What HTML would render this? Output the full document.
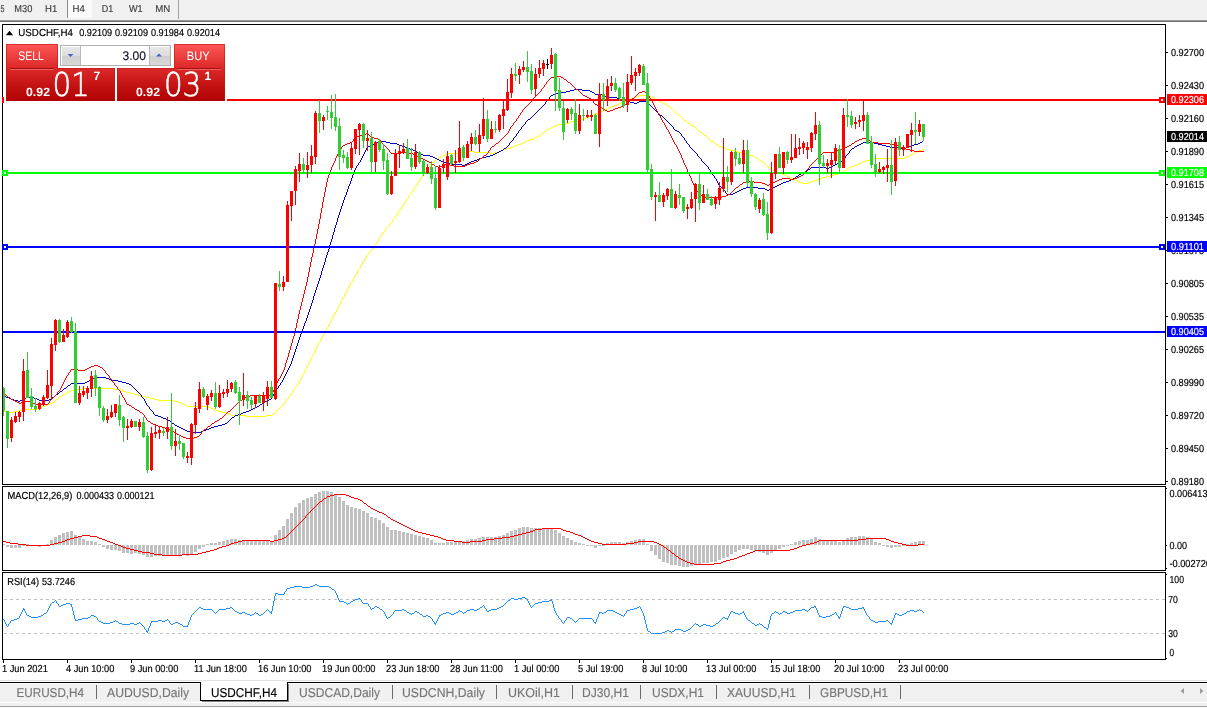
<!DOCTYPE html>
<html><head><meta charset="utf-8"><title>USDCHF,H4</title>
<style>
html,body{margin:0;padding:0;background:#fff;overflow:hidden}
svg{display:block;font-family:"Liberation Sans", Arial, sans-serif}
rect,line,polyline{shape-rendering:crispEdges}
text{white-space:pre;text-rendering:geometricPrecision}
</style></head>
<body>
<svg width="1207" height="708" viewBox="0 0 1207 708">
<rect x="0" y="0" width="1207" height="708" fill="#fff"/>
<rect x="0" y="0" width="1207" height="19" fill="#f0f0f0" />
<rect x="0" y="19" width="1207" height="1" fill="#f0f0f0" />
<rect x="0" y="20" width="1207" height="1" fill="#9a9a9a" />
<rect x="0" y="21" width="1207" height="1" fill="#6e6e6e" />
<rect x="68" y="0" width="24" height="18" fill="#fafafa" />
<rect x="67" y="0" width="1" height="18" fill="#8a8a8a" />
<rect x="178" y="0" width="1" height="19" fill="#a0a0a0" />
<text x="-5.5" y="12.1" font-size="10" fill="#3c3c3c" stroke="#3c3c3c" stroke-width="0.15" textLength="10" lengthAdjust="spacingAndGlyphs" >M5</text>
<text x="14.3" y="12.1" font-size="10" fill="#3c3c3c" stroke="#3c3c3c" stroke-width="0.15" textLength="18" lengthAdjust="spacingAndGlyphs" >M30</text>
<text x="45" y="12.1" font-size="10" fill="#3c3c3c" stroke="#3c3c3c" stroke-width="0.15" textLength="12.2" lengthAdjust="spacingAndGlyphs" >H1</text>
<text x="72.6" y="12.1" font-size="10" fill="#3c3c3c" stroke="#3c3c3c" stroke-width="0.15" textLength="12.3" lengthAdjust="spacingAndGlyphs" >H4</text>
<text x="101.8" y="12.1" font-size="10" fill="#3c3c3c" stroke="#3c3c3c" stroke-width="0.15" textLength="11.5" lengthAdjust="spacingAndGlyphs" >D1</text>
<text x="129" y="12.1" font-size="10" fill="#3c3c3c" stroke="#3c3c3c" stroke-width="0.15" textLength="13.7" lengthAdjust="spacingAndGlyphs" >W1</text>
<text x="155.3" y="12.1" font-size="10" fill="#3c3c3c" stroke="#3c3c3c" stroke-width="0.15" textLength="15" lengthAdjust="spacingAndGlyphs" >MN</text>
<rect x="2" y="24" width="1164" height="1" fill="#000" />
<rect x="2" y="484" width="1164" height="1" fill="#000" />
<rect x="2" y="24" width="1" height="461" fill="#000" />
<rect x="1165" y="24" width="1" height="461" fill="#000" />
<rect x="2" y="486" width="1164" height="1" fill="#000" />
<rect x="2" y="570" width="1164" height="1" fill="#000" />
<rect x="2" y="486" width="1" height="85" fill="#000" />
<rect x="1165" y="486" width="1" height="85" fill="#000" />
<rect x="2" y="572" width="1164" height="1" fill="#000" />
<rect x="2" y="659" width="1164" height="1" fill="#000" />
<rect x="2" y="572" width="1" height="88" fill="#000" />
<rect x="1165" y="572" width="1" height="88" fill="#000" />
<rect x="1166" y="52" width="2" height="1" fill="#000" />
<text x="1171" y="56" font-size="10.2" fill="#000" stroke="#000" stroke-width="0.18" textLength="33" lengthAdjust="spacingAndGlyphs" >0.92700</text>
<rect x="1166" y="85" width="2" height="1" fill="#000" />
<text x="1171" y="89" font-size="10.2" fill="#000" stroke="#000" stroke-width="0.18" textLength="33" lengthAdjust="spacingAndGlyphs" >0.92430</text>
<rect x="1166" y="118" width="2" height="1" fill="#000" />
<text x="1171" y="122" font-size="10.2" fill="#000" stroke="#000" stroke-width="0.18" textLength="33" lengthAdjust="spacingAndGlyphs" >0.92160</text>
<rect x="1166" y="151" width="2" height="1" fill="#000" />
<text x="1171" y="155" font-size="10.2" fill="#000" stroke="#000" stroke-width="0.18" textLength="33" lengthAdjust="spacingAndGlyphs" >0.91890</text>
<rect x="1166" y="184" width="2" height="1" fill="#000" />
<text x="1171" y="188" font-size="10.2" fill="#000" stroke="#000" stroke-width="0.18" textLength="33" lengthAdjust="spacingAndGlyphs" >0.91615</text>
<rect x="1166" y="217" width="2" height="1" fill="#000" />
<text x="1171" y="221" font-size="10.2" fill="#000" stroke="#000" stroke-width="0.18" textLength="33" lengthAdjust="spacingAndGlyphs" >0.91345</text>
<rect x="1166" y="250" width="2" height="1" fill="#000" />
<text x="1171" y="254" font-size="10.2" fill="#000" stroke="#000" stroke-width="0.18" textLength="33" lengthAdjust="spacingAndGlyphs" >0.91075</text>
<rect x="1166" y="283" width="2" height="1" fill="#000" />
<text x="1171" y="287" font-size="10.2" fill="#000" stroke="#000" stroke-width="0.18" textLength="33" lengthAdjust="spacingAndGlyphs" >0.90805</text>
<rect x="1166" y="316" width="2" height="1" fill="#000" />
<text x="1171" y="320" font-size="10.2" fill="#000" stroke="#000" stroke-width="0.18" textLength="33" lengthAdjust="spacingAndGlyphs" >0.90535</text>
<rect x="1166" y="349" width="2" height="1" fill="#000" />
<text x="1171" y="353" font-size="10.2" fill="#000" stroke="#000" stroke-width="0.18" textLength="33" lengthAdjust="spacingAndGlyphs" >0.90265</text>
<rect x="1166" y="382" width="2" height="1" fill="#000" />
<text x="1171" y="386" font-size="10.2" fill="#000" stroke="#000" stroke-width="0.18" textLength="33" lengthAdjust="spacingAndGlyphs" >0.89990</text>
<rect x="1166" y="415" width="2" height="1" fill="#000" />
<text x="1171" y="419" font-size="10.2" fill="#000" stroke="#000" stroke-width="0.18" textLength="33" lengthAdjust="spacingAndGlyphs" >0.89720</text>
<rect x="1166" y="448" width="2" height="1" fill="#000" />
<text x="1171" y="452" font-size="10.2" fill="#000" stroke="#000" stroke-width="0.18" textLength="33" lengthAdjust="spacingAndGlyphs" >0.89450</text>
<rect x="1166" y="481" width="2" height="1" fill="#000" />
<text x="1171" y="485" font-size="10.2" fill="#000" stroke="#000" stroke-width="0.18" textLength="33" lengthAdjust="spacingAndGlyphs" >0.89180</text>
<path d="M639 95h10v1h-10zM637 96h2v1h-2zM649 96h2v1h-2zM634 97h3v1h-3zM651 97h2v1h-2zM631 98h3v1h-3zM653 98h2v1h-2zM629 99h2v1h-2zM655 99h2v1h-2zM626 100h3v1h-3zM657 100h2v1h-2zM623 101h3v1h-3zM659 101h2v1h-2zM621 102h2v1h-2zM661 102h2v1h-2zM619 103h2v1h-2zM663 103h2v1h-2zM617 104h2v1h-2zM665 104h2v1h-2zM614 105h3v1h-3zM667 105h1v1h-1zM611 106h3v1h-3zM668 106h2v1h-2zM609 107h2v1h-2zM670 107h1v1h-1zM607 108h2v1h-2zM671 108h1v1h-1zM605 109h2v1h-2zM672 109h1v1h-1zM603 110h2v1h-2zM673 110h1v1h-1zM601 111h2v1h-2zM674 111h1v1h-1zM598 112h3v1h-3zM675 112h1v1h-1zM595 113h3v1h-3zM676 113h2v1h-2zM593 114h2v1h-2zM678 114h1v1h-1zM591 115h2v1h-2zM679 115h1v1h-1zM589 116h2v1h-2zM680 116h1v1h-1zM586 117h3v1h-3zM681 117h1v1h-1zM583 118h3v1h-3zM682 118h1v1h-1zM581 119h2v1h-2zM683 119h1v1h-1zM578 120h3v1h-3zM684 120h2v1h-2zM571 121h7v1h-7zM686 121h1v1h-1zM569 122h2v1h-2zM687 122h1v1h-1zM566 123h3v1h-3zM688 123h2v1h-2zM558 124h8v1h-8zM690 124h1v1h-1zM555 125h3v1h-3zM691 125h2v1h-2zM553 126h2v1h-2zM693 126h2v1h-2zM551 127h2v1h-2zM695 127h1v1h-1zM549 128h2v1h-2zM696 128h1v1h-1zM547 129h2v1h-2zM697 129h1v1h-1zM546 130h1v1h-1zM698 130h1v1h-1zM544 131h2v1h-2zM699 131h1v1h-1zM543 132h1v1h-1zM700 132h2v1h-2zM542 133h1v1h-1zM702 133h1v1h-1zM540 134h2v1h-2zM703 134h1v1h-1zM539 135h1v1h-1zM704 135h2v1h-2zM537 136h2v1h-2zM706 136h1v1h-1zM535 137h2v1h-2zM707 137h1v1h-1zM533 138h2v1h-2zM708 138h1v1h-1zM530 139h3v1h-3zM709 139h1v1h-1zM527 140h3v1h-3zM710 140h1v1h-1zM525 141h2v1h-2zM711 141h2v1h-2zM523 142h2v1h-2zM713 142h2v1h-2zM521 143h2v1h-2zM715 143h1v1h-1zM518 144h3v1h-3zM716 144h2v1h-2zM515 145h3v1h-3zM718 145h1v1h-1zM513 146h2v1h-2zM719 146h3v1h-3zM510 147h3v1h-3zM722 147h3v1h-3zM506 148h4v1h-4zM725 148h2v1h-2zM503 149h3v1h-3zM727 149h3v1h-3zM922 149h2v1h-2zM501 150h2v1h-2zM730 150h4v1h-4zM919 150h3v1h-3zM466 151h8v1h-8zM498 151h3v1h-3zM734 151h4v1h-4zM917 151h2v1h-2zM458 152h8v1h-8zM474 152h16v1h-16zM494 152h4v1h-4zM738 152h4v1h-4zM915 152h2v1h-2zM447 153h11v1h-11zM490 153h4v1h-4zM742 153h4v1h-4zM913 153h2v1h-2zM445 154h2v1h-2zM746 154h4v1h-4zM911 154h2v1h-2zM443 155h2v1h-2zM750 155h3v1h-3zM909 155h2v1h-2zM441 156h2v1h-2zM753 156h2v1h-2zM907 156h2v1h-2zM439 157h2v1h-2zM755 157h1v1h-1zM905 157h2v1h-2zM438 158h1v1h-1zM756 158h2v1h-2zM874 158h31v1h-31zM436 159h2v1h-2zM758 159h1v1h-1zM870 159h4v1h-4zM435 160h1v1h-1zM759 160h2v1h-2zM866 160h4v1h-4zM434 161h1v1h-1zM761 161h2v1h-2zM863 161h3v1h-3zM432 162h2v1h-2zM763 162h1v1h-1zM861 162h2v1h-2zM431 163h1v1h-1zM764 163h1v1h-1zM859 163h2v1h-2zM430 164h1v1h-1zM765 164h1v1h-1zM857 164h2v1h-2zM430 165h1v1h-1zM766 165h1v1h-1zM854 165h3v1h-3zM429 166h1v1h-1zM767 166h1v1h-1zM851 166h3v1h-3zM428 167h1v1h-1zM768 167h2v1h-2zM849 167h2v1h-2zM428 168h1v1h-1zM770 168h1v1h-1zM847 168h2v1h-2zM427 169h1v1h-1zM771 169h2v1h-2zM846 169h1v1h-1zM426 170h1v1h-1zM773 170h2v1h-2zM844 170h2v1h-2zM425 171h1v1h-1zM775 171h2v1h-2zM843 171h1v1h-1zM425 172h1v1h-1zM777 172h2v1h-2zM841 172h2v1h-2zM424 173h1v1h-1zM779 173h3v1h-3zM838 173h3v1h-3zM423 174h1v1h-1zM782 174h3v1h-3zM834 174h4v1h-4zM422 175h1v1h-1zM785 175h2v1h-2zM830 175h4v1h-4zM422 176h1v1h-1zM787 176h2v1h-2zM826 176h4v1h-4zM421 177h1v1h-1zM789 177h2v1h-2zM822 177h4v1h-4zM420 178h1v1h-1zM791 178h2v1h-2zM819 178h3v1h-3zM420 179h1v1h-1zM793 179h2v1h-2zM817 179h2v1h-2zM419 180h1v1h-1zM795 180h2v1h-2zM814 180h3v1h-3zM418 181h1v1h-1zM797 181h2v1h-2zM811 181h3v1h-3zM418 182h1v1h-1zM799 182h3v1h-3zM809 182h2v1h-2zM417 183h1v1h-1zM802 183h7v1h-7zM416 184h1v1h-1zM416 185h1v1h-1zM415 186h1v1h-1zM414 187h1v1h-1zM414 188h1v1h-1zM413 189h1v1h-1zM412 190h1v1h-1zM412 191h1v1h-1zM411 192h1v1h-1zM410 193h1v1h-1zM410 194h1v1h-1zM409 195h1v1h-1zM408 196h1v1h-1zM408 197h1v1h-1zM407 198h1v1h-1zM406 199h1v1h-1zM406 200h1v1h-1zM405 201h1v1h-1zM404 202h1v1h-1zM404 203h1v1h-1zM403 204h1v1h-1zM402 205h1v1h-1zM402 206h1v1h-1zM401 207h1v1h-1zM400 208h1v1h-1zM400 209h1v1h-1zM399 210h1v1h-1zM398 211h1v1h-1zM398 212h1v1h-1zM397 213h1v1h-1zM396 214h1v1h-1zM396 215h1v1h-1zM395 216h1v1h-1zM394 217h1v1h-1zM394 218h1v1h-1zM393 219h1v1h-1zM392 220h1v1h-1zM392 221h1v1h-1zM391 222h1v1h-1zM390 223h1v1h-1zM389 224h1v1h-1zM389 225h1v1h-1zM388 226h1v1h-1zM387 227h1v1h-1zM386 228h1v1h-1zM385 229h1v1h-1zM385 230h1v1h-1zM384 231h1v1h-1zM383 232h1v1h-1zM382 233h1v1h-1zM382 234h1v1h-1zM381 235h1v1h-1zM380 236h1v1h-1zM380 237h1v1h-1zM379 238h1v1h-1zM378 239h1v1h-1zM378 240h1v1h-1zM377 241h1v1h-1zM376 242h1v1h-1zM376 243h1v1h-1zM375 244h1v1h-1zM374 245h1v1h-1zM374 246h1v1h-1zM373 247h1v1h-1zM372 248h1v1h-1zM372 249h1v1h-1zM371 250h1v1h-1zM370 251h1v1h-1zM369 252h1v1h-1zM369 253h1v1h-1zM368 254h1v1h-1zM367 255h1v1h-1zM366 256h1v1h-1zM366 257h1v1h-1zM365 258h1v1h-1zM364 259h1v1h-1zM364 260h1v1h-1zM363 261h1v1h-1zM362 262h1v1h-1zM362 263h1v1h-1zM361 264h1v1h-1zM361 265h1v1h-1zM360 266h1v1h-1zM360 267h1v1h-1zM359 268h1v1h-1zM358 269h1v1h-1zM358 270h1v1h-1zM357 271h1v1h-1zM357 272h1v1h-1zM356 273h1v1h-1zM356 274h1v1h-1zM355 275h1v1h-1zM354 276h1v1h-1zM354 277h1v1h-1zM353 278h1v1h-1zM353 279h1v1h-1zM352 280h1v1h-1zM352 281h1v1h-1zM351 282h1v1h-1zM350 283h1v1h-1zM350 284h1v1h-1zM349 285h1v1h-1zM349 286h1v1h-1zM348 287h1v1h-1zM348 288h1v1h-1zM347 289h1v1h-1zM347 290h1v1h-1zM346 291h1v1h-1zM346 292h1v1h-1zM345 293h1v1h-1zM345 294h1v1h-1zM344 295h1v1h-1zM344 296h1v1h-1zM343 297h1v1h-1zM342 298h1v1h-1zM342 299h1v1h-1zM341 300h1v1h-1zM341 301h1v1h-1zM340 302h1v1h-1zM340 303h1v1h-1zM339 304h1v1h-1zM339 305h1v1h-1zM338 306h1v1h-1zM338 307h1v1h-1zM337 308h1v1h-1zM337 309h1v1h-1zM336 310h1v1h-1zM336 311h1v1h-1zM335 312h1v1h-1zM334 313h1v1h-1zM334 314h1v1h-1zM333 315h1v1h-1zM333 316h1v1h-1zM332 317h1v1h-1zM332 318h1v1h-1zM331 319h1v1h-1zM331 320h1v1h-1zM330 321h1v1h-1zM330 322h1v1h-1zM329 323h1v1h-1zM329 324h1v1h-1zM328 325h1v1h-1zM328 326h1v1h-1zM327 327h1v1h-1zM326 328h1v1h-1zM326 329h1v1h-1zM325 330h1v1h-1zM325 331h1v1h-1zM324 332h1v1h-1zM324 333h1v1h-1zM323 334h1v1h-1zM323 335h1v1h-1zM322 336h1v1h-1zM322 337h1v1h-1zM321 338h1v1h-1zM321 339h1v1h-1zM320 340h1v1h-1zM320 341h1v1h-1zM319 342h1v1h-1zM318 343h1v1h-1zM318 344h1v1h-1zM317 345h1v1h-1zM317 346h1v1h-1zM316 347h1v1h-1zM316 348h1v1h-1zM315 349h1v1h-1zM315 350h1v1h-1zM314 351h1v1h-1zM314 352h1v1h-1zM313 353h1v1h-1zM313 354h1v1h-1zM312 355h1v1h-1zM312 356h1v1h-1zM311 357h1v1h-1zM311 358h1v1h-1zM310 359h1v1h-1zM310 360h1v1h-1zM309 361h1v1h-1zM309 362h1v1h-1zM308 363h1v1h-1zM308 364h1v1h-1zM307 365h1v1h-1zM307 366h1v1h-1zM306 367h1v1h-1zM306 368h1v1h-1zM305 369h1v1h-1zM305 370h1v1h-1zM304 371h1v1h-1zM304 372h1v1h-1zM303 373h1v1h-1zM303 374h1v1h-1zM302 375h1v1h-1zM302 376h1v1h-1zM301 377h1v1h-1zM301 378h1v1h-1zM300 379h1v1h-1zM300 380h1v1h-1zM299 381h1v1h-1zM298 382h1v1h-1zM298 383h1v1h-1zM297 384h1v1h-1zM296 385h1v1h-1zM296 386h1v1h-1zM295 387h1v1h-1zM82 388h32v1h-32zM294 388h1v1h-1zM74 389h8v1h-8zM114 389h7v1h-7zM294 389h1v1h-1zM71 390h3v1h-3zM121 390h2v1h-2zM293 390h1v1h-1zM69 391h2v1h-2zM123 391h3v1h-3zM292 391h1v1h-1zM67 392h2v1h-2zM126 392h4v1h-4zM292 392h1v1h-1zM65 393h2v1h-2zM130 393h4v1h-4zM291 393h1v1h-1zM63 394h2v1h-2zM134 394h4v1h-4zM290 394h1v1h-1zM62 395h1v1h-1zM138 395h4v1h-4zM290 395h1v1h-1zM60 396h2v1h-2zM142 396h4v1h-4zM289 396h1v1h-1zM59 397h1v1h-1zM146 397h4v1h-4zM288 397h1v1h-1zM58 398h1v1h-1zM150 398h4v1h-4zM288 398h1v1h-1zM56 399h2v1h-2zM154 399h4v1h-4zM287 399h1v1h-1zM55 400h1v1h-1zM158 400h16v1h-16zM286 400h1v1h-1zM54 401h1v1h-1zM174 401h4v1h-4zM285 401h1v1h-1zM52 402h2v1h-2zM178 402h3v1h-3zM285 402h1v1h-1zM50 403h2v1h-2zM181 403h2v1h-2zM284 403h1v1h-1zM47 404h3v1h-3zM183 404h2v1h-2zM283 404h1v1h-1zM45 405h2v1h-2zM185 405h2v1h-2zM282 405h1v1h-1zM42 406h3v1h-3zM187 406h22v1h-22zM281 406h1v1h-1zM39 407h3v1h-3zM209 407h2v1h-2zM280 407h1v1h-1zM37 408h2v1h-2zM211 408h2v1h-2zM279 408h1v1h-1zM22 409h15v1h-15zM213 409h2v1h-2zM278 409h1v1h-1zM18 410h4v1h-4zM215 410h3v1h-3zM277 410h1v1h-1zM3 411h3v1h-3zM14 411h4v1h-4zM218 411h4v1h-4zM276 411h1v1h-1zM6 412h8v1h-8zM222 412h4v1h-4zM275 412h1v1h-1zM226 413h3v1h-3zM274 413h1v1h-1zM229 414h2v1h-2zM272 414h2v1h-2zM231 415h15v1h-15zM266 415h6v1h-6zM246 416h20v1h-20z" fill="#ffff00" shape-rendering="crispEdges"/>
<path d="M574 89h8v1h-8zM570 90h4v1h-4zM582 90h8v1h-8zM566 91h4v1h-4zM590 91h2v1h-2zM558 92h8v1h-8zM592 92h2v1h-2zM555 93h3v1h-3zM594 93h1v1h-1zM553 94h2v1h-2zM595 94h7v1h-7zM551 95h2v1h-2zM602 95h3v1h-3zM550 96h1v1h-1zM605 96h2v1h-2zM549 97h1v1h-1zM607 97h10v1h-10zM549 98h1v1h-1zM617 98h2v1h-2zM548 99h1v1h-1zM619 99h3v1h-3zM547 100h1v1h-1zM622 100h4v1h-4zM546 101h1v1h-1zM626 101h4v1h-4zM639 101h7v1h-7zM545 102h1v1h-1zM630 102h4v1h-4zM637 102h2v1h-2zM646 102h2v1h-2zM545 103h1v1h-1zM634 103h3v1h-3zM648 103h1v1h-1zM544 104h1v1h-1zM649 104h1v1h-1zM543 105h1v1h-1zM650 105h1v1h-1zM542 106h1v1h-1zM651 106h1v1h-1zM541 107h1v1h-1zM652 107h1v1h-1zM540 108h1v1h-1zM653 108h1v1h-1zM539 109h1v1h-1zM654 109h1v1h-1zM538 110h1v1h-1zM655 110h1v1h-1zM537 111h1v1h-1zM656 111h1v1h-1zM536 112h1v1h-1zM657 112h1v1h-1zM535 113h1v1h-1zM658 113h1v1h-1zM534 114h1v1h-1zM659 114h1v1h-1zM533 115h1v1h-1zM660 115h2v1h-2zM532 116h1v1h-1zM662 116h1v1h-1zM531 117h1v1h-1zM663 117h1v1h-1zM530 118h1v1h-1zM664 118h1v1h-1zM528 119h2v1h-2zM665 119h1v1h-1zM527 120h1v1h-1zM666 120h1v1h-1zM526 121h1v1h-1zM667 121h1v1h-1zM525 122h1v1h-1zM668 122h1v1h-1zM525 123h1v1h-1zM669 123h1v1h-1zM524 124h1v1h-1zM670 124h1v1h-1zM523 125h1v1h-1zM671 125h1v1h-1zM522 126h1v1h-1zM672 126h1v1h-1zM521 127h1v1h-1zM673 127h1v1h-1zM521 128h1v1h-1zM673 128h1v1h-1zM520 129h1v1h-1zM674 129h1v1h-1zM519 130h1v1h-1zM675 130h2v1h-2zM518 131h1v1h-1zM677 131h2v1h-2zM518 132h1v1h-1zM679 132h1v1h-1zM517 133h1v1h-1zM680 133h1v1h-1zM516 134h1v1h-1zM681 134h1v1h-1zM516 135h1v1h-1zM681 135h1v1h-1zM515 136h1v1h-1zM682 136h1v1h-1zM514 137h1v1h-1zM683 137h1v1h-1zM513 138h1v1h-1zM684 138h1v1h-1zM513 139h1v1h-1zM684 139h1v1h-1zM512 140h1v1h-1zM685 140h1v1h-1zM923 140h1v1h-1zM379 141h7v1h-7zM511 141h1v1h-1zM686 141h1v1h-1zM922 141h1v1h-1zM377 142h2v1h-2zM386 142h4v1h-4zM510 142h1v1h-1zM686 142h1v1h-1zM863 142h11v1h-11zM920 142h2v1h-2zM374 143h3v1h-3zM390 143h7v1h-7zM509 143h1v1h-1zM687 143h1v1h-1zM861 143h2v1h-2zM874 143h4v1h-4zM918 143h2v1h-2zM371 144h3v1h-3zM397 144h2v1h-2zM509 144h1v1h-1zM688 144h1v1h-1zM859 144h2v1h-2zM878 144h4v1h-4zM914 144h4v1h-4zM370 145h1v1h-1zM399 145h3v1h-3zM508 145h1v1h-1zM689 145h1v1h-1zM857 145h2v1h-2zM882 145h4v1h-4zM911 145h3v1h-3zM368 146h2v1h-2zM402 146h3v1h-3zM507 146h1v1h-1zM689 146h1v1h-1zM855 146h2v1h-2zM886 146h4v1h-4zM909 146h2v1h-2zM367 147h1v1h-1zM405 147h2v1h-2zM506 147h1v1h-1zM690 147h1v1h-1zM854 147h1v1h-1zM890 147h8v1h-8zM906 147h3v1h-3zM366 148h1v1h-1zM407 148h3v1h-3zM504 148h2v1h-2zM691 148h1v1h-1zM852 148h2v1h-2zM898 148h8v1h-8zM366 149h1v1h-1zM410 149h3v1h-3zM503 149h1v1h-1zM692 149h1v1h-1zM851 149h1v1h-1zM365 150h1v1h-1zM413 150h2v1h-2zM501 150h2v1h-2zM693 150h1v1h-1zM850 150h1v1h-1zM365 151h1v1h-1zM415 151h2v1h-2zM499 151h2v1h-2zM694 151h1v1h-1zM849 151h1v1h-1zM364 152h1v1h-1zM417 152h2v1h-2zM497 152h2v1h-2zM695 152h1v1h-1zM849 152h1v1h-1zM364 153h1v1h-1zM419 153h2v1h-2zM495 153h2v1h-2zM696 153h1v1h-1zM848 153h1v1h-1zM363 154h1v1h-1zM421 154h2v1h-2zM493 154h2v1h-2zM697 154h1v1h-1zM847 154h1v1h-1zM363 155h1v1h-1zM423 155h7v1h-7zM490 155h3v1h-3zM697 155h1v1h-1zM846 155h1v1h-1zM362 156h1v1h-1zM430 156h3v1h-3zM486 156h4v1h-4zM698 156h1v1h-1zM845 156h1v1h-1zM362 157h1v1h-1zM433 157h2v1h-2zM482 157h4v1h-4zM699 157h1v1h-1zM845 157h1v1h-1zM361 158h1v1h-1zM435 158h2v1h-2zM479 158h3v1h-3zM700 158h1v1h-1zM844 158h1v1h-1zM361 159h1v1h-1zM437 159h2v1h-2zM477 159h2v1h-2zM701 159h1v1h-1zM843 159h1v1h-1zM360 160h1v1h-1zM439 160h2v1h-2zM474 160h3v1h-3zM701 160h1v1h-1zM842 160h1v1h-1zM360 161h1v1h-1zM441 161h2v1h-2zM471 161h3v1h-3zM702 161h1v1h-1zM840 161h2v1h-2zM359 162h1v1h-1zM443 162h6v1h-6zM469 162h2v1h-2zM703 162h1v1h-1zM839 162h1v1h-1zM358 163h1v1h-1zM449 163h2v1h-2zM467 163h2v1h-2zM704 163h1v1h-1zM837 163h2v1h-2zM358 164h1v1h-1zM451 164h11v1h-11zM465 164h2v1h-2zM705 164h1v1h-1zM835 164h2v1h-2zM357 165h1v1h-1zM462 165h3v1h-3zM706 165h1v1h-1zM833 165h2v1h-2zM356 166h1v1h-1zM707 166h1v1h-1zM831 166h2v1h-2zM356 167h1v1h-1zM708 167h1v1h-1zM811 167h15v1h-15zM829 167h2v1h-2zM355 168h1v1h-1zM708 168h1v1h-1zM810 168h1v1h-1zM826 168h3v1h-3zM355 169h1v1h-1zM709 169h1v1h-1zM808 169h2v1h-2zM354 170h1v1h-1zM710 170h1v1h-1zM807 170h1v1h-1zM354 171h1v1h-1zM710 171h1v1h-1zM805 171h2v1h-2zM354 172h1v1h-1zM711 172h1v1h-1zM803 172h2v1h-2zM353 173h1v1h-1zM712 173h1v1h-1zM801 173h2v1h-2zM353 174h1v1h-1zM712 174h1v1h-1zM799 174h2v1h-2zM352 175h1v1h-1zM713 175h1v1h-1zM798 175h1v1h-1zM352 176h1v1h-1zM714 176h1v1h-1zM796 176h2v1h-2zM352 177h1v1h-1zM714 177h1v1h-1zM795 177h1v1h-1zM351 178h1v1h-1zM715 178h1v1h-1zM793 178h2v1h-2zM351 179h1v1h-1zM716 179h1v1h-1zM791 179h2v1h-2zM351 180h1v1h-1zM716 180h1v1h-1zM789 180h2v1h-2zM350 181h1v1h-1zM717 181h1v1h-1zM786 181h3v1h-3zM350 182h1v1h-1zM717 182h1v1h-1zM783 182h3v1h-3zM350 183h1v1h-1zM718 183h1v1h-1zM781 183h2v1h-2zM349 184h1v1h-1zM718 184h1v1h-1zM779 184h2v1h-2zM349 185h1v1h-1zM719 185h1v1h-1zM777 185h2v1h-2zM348 186h1v1h-1zM720 186h1v1h-1zM775 186h2v1h-2zM348 187h1v1h-1zM721 187h1v1h-1zM746 187h12v1h-12zM773 187h2v1h-2zM348 188h1v1h-1zM722 188h1v1h-1zM743 188h3v1h-3zM758 188h7v1h-7zM771 188h2v1h-2zM347 189h1v1h-1zM723 189h1v1h-1zM741 189h2v1h-2zM765 189h2v1h-2zM769 189h2v1h-2zM347 190h1v1h-1zM724 190h1v1h-1zM739 190h2v1h-2zM767 190h2v1h-2zM347 191h1v1h-1zM725 191h1v1h-1zM737 191h2v1h-2zM346 192h1v1h-1zM725 192h1v1h-1zM735 192h2v1h-2zM346 193h1v1h-1zM726 193h1v1h-1zM733 193h2v1h-2zM346 194h1v1h-1zM727 194h6v1h-6zM345 195h1v1h-1zM345 196h1v1h-1zM344 197h1v1h-1zM344 198h1v1h-1zM344 199h1v1h-1zM343 200h1v1h-1zM343 201h1v1h-1zM343 202h1v1h-1zM342 203h1v1h-1zM342 204h1v1h-1zM342 205h1v1h-1zM341 206h1v1h-1zM341 207h1v1h-1zM341 208h1v1h-1zM340 209h1v1h-1zM340 210h1v1h-1zM340 211h1v1h-1zM339 212h1v1h-1zM339 213h1v1h-1zM339 214h1v1h-1zM338 215h1v1h-1zM338 216h1v1h-1zM338 217h1v1h-1zM337 218h1v1h-1zM337 219h1v1h-1zM337 220h1v1h-1zM337 221h1v1h-1zM336 222h1v1h-1zM336 223h1v1h-1zM336 224h1v1h-1zM335 225h1v1h-1zM335 226h1v1h-1zM335 227h1v1h-1zM334 228h1v1h-1zM334 229h1v1h-1zM334 230h1v1h-1zM334 231h1v1h-1zM333 232h1v1h-1zM333 233h1v1h-1zM333 234h1v1h-1zM332 235h1v1h-1zM332 236h1v1h-1zM332 237h1v1h-1zM332 238h1v1h-1zM331 239h1v1h-1zM331 240h1v1h-1zM331 241h1v1h-1zM330 242h1v1h-1zM330 243h1v1h-1zM330 244h1v1h-1zM329 245h1v1h-1zM329 246h1v1h-1zM329 247h1v1h-1zM329 248h1v1h-1zM328 249h1v1h-1zM328 250h1v1h-1zM328 251h1v1h-1zM327 252h1v1h-1zM327 253h1v1h-1zM327 254h1v1h-1zM326 255h1v1h-1zM326 256h1v1h-1zM326 257h1v1h-1zM325 258h1v1h-1zM325 259h1v1h-1zM325 260h1v1h-1zM325 261h1v1h-1zM324 262h1v1h-1zM324 263h1v1h-1zM324 264h1v1h-1zM323 265h1v1h-1zM323 266h1v1h-1zM323 267h1v1h-1zM322 268h1v1h-1zM322 269h1v1h-1zM322 270h1v1h-1zM321 271h1v1h-1zM321 272h1v1h-1zM321 273h1v1h-1zM321 274h1v1h-1zM320 275h1v1h-1zM320 276h1v1h-1zM320 277h1v1h-1zM319 278h1v1h-1zM319 279h1v1h-1zM319 280h1v1h-1zM318 281h1v1h-1zM318 282h1v1h-1zM318 283h1v1h-1zM317 284h1v1h-1zM317 285h1v1h-1zM317 286h1v1h-1zM316 287h1v1h-1zM316 288h1v1h-1zM316 289h1v1h-1zM315 290h1v1h-1zM315 291h1v1h-1zM315 292h1v1h-1zM314 293h1v1h-1zM314 294h1v1h-1zM314 295h1v1h-1zM313 296h1v1h-1zM313 297h1v1h-1zM313 298h1v1h-1zM313 299h1v1h-1zM312 300h1v1h-1zM312 301h1v1h-1zM312 302h1v1h-1zM311 303h1v1h-1zM311 304h1v1h-1zM311 305h1v1h-1zM310 306h1v1h-1zM310 307h1v1h-1zM310 308h1v1h-1zM309 309h1v1h-1zM309 310h1v1h-1zM309 311h1v1h-1zM308 312h1v1h-1zM308 313h1v1h-1zM308 314h1v1h-1zM307 315h1v1h-1zM307 316h1v1h-1zM307 317h1v1h-1zM306 318h1v1h-1zM306 319h1v1h-1zM306 320h1v1h-1zM305 321h1v1h-1zM305 322h1v1h-1zM304 323h1v1h-1zM304 324h1v1h-1zM304 325h1v1h-1zM303 326h1v1h-1zM303 327h1v1h-1zM303 328h1v1h-1zM302 329h1v1h-1zM302 330h1v1h-1zM302 331h1v1h-1zM301 332h1v1h-1zM301 333h1v1h-1zM300 334h1v1h-1zM300 335h1v1h-1zM300 336h1v1h-1zM299 337h1v1h-1zM299 338h1v1h-1zM299 339h1v1h-1zM298 340h1v1h-1zM298 341h1v1h-1zM298 342h1v1h-1zM297 343h1v1h-1zM297 344h1v1h-1zM297 345h1v1h-1zM296 346h1v1h-1zM296 347h1v1h-1zM296 348h1v1h-1zM295 349h1v1h-1zM295 350h1v1h-1zM295 351h1v1h-1zM294 352h1v1h-1zM294 353h1v1h-1zM294 354h1v1h-1zM293 355h1v1h-1zM293 356h1v1h-1zM293 357h1v1h-1zM292 358h1v1h-1zM292 359h1v1h-1zM292 360h1v1h-1zM291 361h1v1h-1zM291 362h1v1h-1zM291 363h1v1h-1zM290 364h1v1h-1zM290 365h1v1h-1zM289 366h1v1h-1zM289 367h1v1h-1zM288 368h1v1h-1zM288 369h1v1h-1zM287 370h1v1h-1zM287 371h1v1h-1zM286 372h1v1h-1zM286 373h1v1h-1zM285 374h1v1h-1zM285 375h1v1h-1zM284 376h1v1h-1zM95 377h11v1h-11zM284 377h1v1h-1zM93 378h2v1h-2zM106 378h3v1h-3zM283 378h1v1h-1zM91 379h2v1h-2zM109 379h2v1h-2zM283 379h1v1h-1zM89 380h2v1h-2zM111 380h7v1h-7zM282 380h1v1h-1zM87 381h2v1h-2zM118 381h4v1h-4zM282 381h1v1h-1zM85 382h2v1h-2zM122 382h4v1h-4zM281 382h1v1h-1zM71 383h14v1h-14zM126 383h3v1h-3zM280 383h1v1h-1zM70 384h1v1h-1zM129 384h2v1h-2zM280 384h1v1h-1zM68 385h2v1h-2zM131 385h1v1h-1zM279 385h1v1h-1zM67 386h1v1h-1zM132 386h1v1h-1zM278 386h1v1h-1zM66 387h1v1h-1zM133 387h1v1h-1zM278 387h1v1h-1zM64 388h2v1h-2zM134 388h1v1h-1zM277 388h1v1h-1zM63 389h1v1h-1zM135 389h1v1h-1zM276 389h1v1h-1zM62 390h1v1h-1zM136 390h1v1h-1zM276 390h1v1h-1zM60 391h2v1h-2zM137 391h1v1h-1zM275 391h1v1h-1zM59 392h1v1h-1zM138 392h1v1h-1zM274 392h1v1h-1zM58 393h1v1h-1zM139 393h1v1h-1zM274 393h1v1h-1zM56 394h2v1h-2zM140 394h1v1h-1zM273 394h1v1h-1zM55 395h1v1h-1zM141 395h1v1h-1zM273 395h1v1h-1zM3 396h3v1h-3zM54 396h1v1h-1zM141 396h1v1h-1zM272 396h1v1h-1zM6 397h3v1h-3zM26 397h8v1h-8zM52 397h2v1h-2zM142 397h1v1h-1zM272 397h1v1h-1zM9 398h2v1h-2zM23 398h3v1h-3zM34 398h3v1h-3zM51 398h1v1h-1zM143 398h1v1h-1zM271 398h1v1h-1zM11 399h3v1h-3zM22 399h1v1h-1zM37 399h2v1h-2zM49 399h2v1h-2zM144 399h1v1h-1zM269 399h2v1h-2zM14 400h4v1h-4zM20 400h2v1h-2zM39 400h10v1h-10zM144 400h1v1h-1zM267 400h2v1h-2zM18 401h2v1h-2zM145 401h1v1h-1zM265 401h2v1h-2zM145 402h1v1h-1zM263 402h2v1h-2zM146 403h1v1h-1zM262 403h1v1h-1zM146 404h1v1h-1zM260 404h2v1h-2zM147 405h1v1h-1zM259 405h1v1h-1zM148 406h1v1h-1zM257 406h2v1h-2zM149 407h1v1h-1zM255 407h2v1h-2zM149 408h1v1h-1zM253 408h2v1h-2zM150 409h1v1h-1zM251 409h2v1h-2zM151 410h1v1h-1zM249 410h2v1h-2zM152 411h1v1h-1zM246 411h3v1h-3zM153 412h1v1h-1zM243 412h3v1h-3zM153 413h1v1h-1zM241 413h2v1h-2zM154 414h1v1h-1zM238 414h3v1h-3zM155 415h3v1h-3zM235 415h3v1h-3zM158 416h3v1h-3zM234 416h1v1h-1zM161 417h2v1h-2zM232 417h2v1h-2zM163 418h3v1h-3zM231 418h1v1h-1zM166 419h2v1h-2zM230 419h1v1h-1zM168 420h2v1h-2zM229 420h1v1h-1zM170 421h1v1h-1zM228 421h1v1h-1zM171 422h1v1h-1zM227 422h1v1h-1zM172 423h2v1h-2zM225 423h2v1h-2zM174 424h1v1h-1zM222 424h3v1h-3zM175 425h2v1h-2zM218 425h4v1h-4zM177 426h2v1h-2zM214 426h4v1h-4zM179 427h2v1h-2zM211 427h3v1h-3zM181 428h2v1h-2zM209 428h2v1h-2zM183 429h2v1h-2zM206 429h3v1h-3zM185 430h2v1h-2zM203 430h3v1h-3zM187 431h3v1h-3zM201 431h2v1h-2zM190 432h11v1h-11z" fill="#0000cd" shape-rendering="crispEdges"/>
<path d="M554 76h7v1h-7zM551 77h3v1h-3zM561 77h2v1h-2zM550 78h1v1h-1zM563 78h1v1h-1zM549 79h1v1h-1zM564 79h2v1h-2zM548 80h1v1h-1zM566 80h1v1h-1zM547 81h1v1h-1zM567 81h1v1h-1zM546 82h1v1h-1zM568 82h2v1h-2zM546 83h1v1h-1zM570 83h1v1h-1zM545 84h1v1h-1zM571 84h1v1h-1zM544 85h1v1h-1zM572 85h1v1h-1zM544 86h1v1h-1zM573 86h1v1h-1zM543 87h1v1h-1zM574 87h1v1h-1zM542 88h1v1h-1zM575 88h1v1h-1zM541 89h1v1h-1zM576 89h2v1h-2zM541 90h1v1h-1zM578 90h1v1h-1zM540 91h1v1h-1zM579 91h1v1h-1zM642 91h3v1h-3zM539 92h1v1h-1zM580 92h1v1h-1zM639 92h3v1h-3zM645 92h2v1h-2zM538 93h1v1h-1zM581 93h1v1h-1zM638 93h1v1h-1zM647 93h1v1h-1zM537 94h1v1h-1zM582 94h1v1h-1zM637 94h1v1h-1zM648 94h1v1h-1zM536 95h1v1h-1zM583 95h2v1h-2zM636 95h1v1h-1zM648 95h1v1h-1zM535 96h1v1h-1zM585 96h2v1h-2zM635 96h1v1h-1zM649 96h1v1h-1zM534 97h1v1h-1zM587 97h2v1h-2zM634 97h1v1h-1zM649 97h1v1h-1zM533 98h1v1h-1zM589 98h2v1h-2zM632 98h2v1h-2zM650 98h1v1h-1zM533 99h1v1h-1zM591 99h1v1h-1zM631 99h1v1h-1zM650 99h1v1h-1zM532 100h1v1h-1zM592 100h1v1h-1zM630 100h1v1h-1zM651 100h1v1h-1zM531 101h1v1h-1zM593 101h1v1h-1zM628 101h2v1h-2zM652 101h1v1h-1zM530 102h1v1h-1zM593 102h1v1h-1zM627 102h1v1h-1zM652 102h1v1h-1zM529 103h1v1h-1zM594 103h1v1h-1zM626 103h1v1h-1zM653 103h1v1h-1zM528 104h1v1h-1zM595 104h2v1h-2zM624 104h2v1h-2zM653 104h1v1h-1zM527 105h1v1h-1zM597 105h2v1h-2zM623 105h1v1h-1zM654 105h1v1h-1zM526 106h1v1h-1zM599 106h1v1h-1zM621 106h2v1h-2zM654 106h1v1h-1zM525 107h1v1h-1zM600 107h2v1h-2zM618 107h3v1h-3zM655 107h1v1h-1zM524 108h1v1h-1zM602 108h1v1h-1zM615 108h3v1h-3zM655 108h1v1h-1zM523 109h1v1h-1zM603 109h2v1h-2zM613 109h2v1h-2zM656 109h1v1h-1zM522 110h1v1h-1zM605 110h2v1h-2zM610 110h3v1h-3zM656 110h1v1h-1zM522 111h1v1h-1zM607 111h3v1h-3zM657 111h1v1h-1zM521 112h1v1h-1zM657 112h1v1h-1zM520 113h1v1h-1zM658 113h1v1h-1zM520 114h1v1h-1zM658 114h1v1h-1zM519 115h1v1h-1zM659 115h1v1h-1zM518 116h1v1h-1zM660 116h1v1h-1zM518 117h1v1h-1zM660 117h1v1h-1zM517 118h1v1h-1zM661 118h1v1h-1zM516 119h1v1h-1zM661 119h1v1h-1zM516 120h1v1h-1zM662 120h1v1h-1zM515 121h1v1h-1zM662 121h1v1h-1zM514 122h1v1h-1zM663 122h1v1h-1zM513 123h1v1h-1zM664 123h1v1h-1zM513 124h1v1h-1zM664 124h1v1h-1zM512 125h1v1h-1zM665 125h1v1h-1zM511 126h1v1h-1zM665 126h1v1h-1zM510 127h1v1h-1zM666 127h1v1h-1zM510 128h1v1h-1zM666 128h1v1h-1zM509 129h1v1h-1zM667 129h1v1h-1zM509 130h1v1h-1zM668 130h1v1h-1zM508 131h1v1h-1zM668 131h1v1h-1zM508 132h1v1h-1zM669 132h1v1h-1zM366 133h2v1h-2zM507 133h1v1h-1zM669 133h1v1h-1zM362 134h4v1h-4zM368 134h1v1h-1zM506 134h1v1h-1zM670 134h1v1h-1zM359 135h3v1h-3zM369 135h1v1h-1zM505 135h1v1h-1zM670 135h1v1h-1zM357 136h2v1h-2zM370 136h1v1h-1zM504 136h1v1h-1zM671 136h1v1h-1zM355 137h2v1h-2zM371 137h3v1h-3zM503 137h1v1h-1zM671 137h1v1h-1zM354 138h1v1h-1zM374 138h4v1h-4zM502 138h1v1h-1zM672 138h1v1h-1zM862 138h6v1h-6zM353 139h1v1h-1zM378 139h2v1h-2zM501 139h1v1h-1zM672 139h1v1h-1zM859 139h3v1h-3zM868 139h1v1h-1zM353 140h1v1h-1zM380 140h1v1h-1zM500 140h1v1h-1zM673 140h1v1h-1zM857 140h2v1h-2zM869 140h1v1h-1zM352 141h1v1h-1zM381 141h1v1h-1zM499 141h1v1h-1zM673 141h1v1h-1zM855 141h2v1h-2zM870 141h1v1h-1zM350 142h2v1h-2zM381 142h1v1h-1zM498 142h1v1h-1zM674 142h1v1h-1zM854 142h1v1h-1zM871 142h7v1h-7zM347 143h3v1h-3zM382 143h1v1h-1zM496 143h2v1h-2zM674 143h1v1h-1zM852 143h2v1h-2zM878 143h12v1h-12zM345 144h2v1h-2zM383 144h1v1h-1zM495 144h1v1h-1zM675 144h1v1h-1zM851 144h1v1h-1zM890 144h4v1h-4zM343 145h2v1h-2zM384 145h1v1h-1zM494 145h1v1h-1zM676 145h1v1h-1zM849 145h2v1h-2zM894 145h4v1h-4zM342 146h1v1h-1zM385 146h1v1h-1zM492 146h2v1h-2zM676 146h1v1h-1zM847 146h2v1h-2zM898 146h3v1h-3zM341 147h1v1h-1zM386 147h1v1h-1zM491 147h1v1h-1zM677 147h1v1h-1zM845 147h2v1h-2zM901 147h2v1h-2zM341 148h1v1h-1zM387 148h1v1h-1zM490 148h1v1h-1zM677 148h1v1h-1zM842 148h3v1h-3zM903 148h3v1h-3zM340 149h1v1h-1zM388 149h1v1h-1zM490 149h1v1h-1zM678 149h1v1h-1zM839 149h3v1h-3zM906 149h4v1h-4zM339 150h1v1h-1zM389 150h1v1h-1zM489 150h1v1h-1zM678 150h1v1h-1zM837 150h2v1h-2zM910 150h4v1h-4zM339 151h1v1h-1zM389 151h1v1h-1zM488 151h1v1h-1zM679 151h1v1h-1zM834 151h3v1h-3zM914 151h10v1h-10zM338 152h1v1h-1zM390 152h1v1h-1zM398 152h8v1h-8zM488 152h1v1h-1zM679 152h1v1h-1zM823 152h11v1h-11zM338 153h1v1h-1zM391 153h7v1h-7zM406 153h7v1h-7zM487 153h1v1h-1zM680 153h1v1h-1zM822 153h1v1h-1zM337 154h1v1h-1zM413 154h2v1h-2zM486 154h1v1h-1zM680 154h1v1h-1zM821 154h1v1h-1zM337 155h1v1h-1zM415 155h2v1h-2zM484 155h2v1h-2zM681 155h1v1h-1zM820 155h1v1h-1zM336 156h1v1h-1zM417 156h2v1h-2zM483 156h1v1h-1zM681 156h1v1h-1zM819 156h1v1h-1zM336 157h1v1h-1zM419 157h2v1h-2zM482 157h1v1h-1zM681 157h1v1h-1zM818 157h1v1h-1zM335 158h1v1h-1zM421 158h2v1h-2zM480 158h2v1h-2zM682 158h1v1h-1zM817 158h1v1h-1zM335 159h1v1h-1zM423 159h2v1h-2zM479 159h1v1h-1zM682 159h1v1h-1zM816 159h1v1h-1zM335 160h1v1h-1zM425 160h2v1h-2zM478 160h1v1h-1zM683 160h1v1h-1zM815 160h1v1h-1zM334 161h1v1h-1zM427 161h2v1h-2zM476 161h2v1h-2zM683 161h1v1h-1zM814 161h1v1h-1zM334 162h1v1h-1zM429 162h2v1h-2zM474 162h2v1h-2zM683 162h1v1h-1zM813 162h1v1h-1zM333 163h1v1h-1zM431 163h1v1h-1zM470 163h4v1h-4zM684 163h1v1h-1zM812 163h1v1h-1zM333 164h1v1h-1zM432 164h2v1h-2zM443 164h7v1h-7zM467 164h3v1h-3zM684 164h1v1h-1zM811 164h1v1h-1zM332 165h1v1h-1zM434 165h1v1h-1zM442 165h1v1h-1zM450 165h4v1h-4zM465 165h2v1h-2zM685 165h1v1h-1zM810 165h1v1h-1zM332 166h1v1h-1zM435 166h3v1h-3zM440 166h2v1h-2zM454 166h11v1h-11zM685 166h1v1h-1zM809 166h1v1h-1zM331 167h1v1h-1zM438 167h2v1h-2zM686 167h1v1h-1zM809 167h1v1h-1zM331 168h1v1h-1zM686 168h1v1h-1zM808 168h1v1h-1zM331 169h1v1h-1zM687 169h1v1h-1zM807 169h1v1h-1zM330 170h1v1h-1zM687 170h1v1h-1zM806 170h1v1h-1zM330 171h1v1h-1zM687 171h1v1h-1zM805 171h1v1h-1zM330 172h1v1h-1zM688 172h1v1h-1zM805 172h1v1h-1zM329 173h1v1h-1zM688 173h1v1h-1zM804 173h1v1h-1zM329 174h1v1h-1zM689 174h1v1h-1zM803 174h1v1h-1zM328 175h1v1h-1zM689 175h1v1h-1zM801 175h2v1h-2zM328 176h1v1h-1zM690 176h1v1h-1zM799 176h2v1h-2zM328 177h1v1h-1zM690 177h1v1h-1zM797 177h2v1h-2zM327 178h1v1h-1zM691 178h1v1h-1zM782 178h8v1h-8zM794 178h3v1h-3zM327 179h1v1h-1zM691 179h1v1h-1zM779 179h3v1h-3zM790 179h4v1h-4zM327 180h1v1h-1zM691 180h1v1h-1zM777 180h2v1h-2zM327 181h1v1h-1zM692 181h1v1h-1zM746 181h8v1h-8zM775 181h2v1h-2zM326 182h1v1h-1zM692 182h1v1h-1zM743 182h3v1h-3zM754 182h8v1h-8zM773 182h2v1h-2zM326 183h1v1h-1zM693 183h1v1h-1zM742 183h1v1h-1zM762 183h3v1h-3zM771 183h2v1h-2zM326 184h1v1h-1zM693 184h1v1h-1zM740 184h2v1h-2zM765 184h2v1h-2zM769 184h2v1h-2zM326 185h1v1h-1zM694 185h1v1h-1zM739 185h1v1h-1zM767 185h2v1h-2zM326 186h1v1h-1zM694 186h1v1h-1zM738 186h1v1h-1zM325 187h1v1h-1zM695 187h1v1h-1zM736 187h2v1h-2zM325 188h1v1h-1zM695 188h1v1h-1zM735 188h1v1h-1zM325 189h1v1h-1zM696 189h1v1h-1zM734 189h1v1h-1zM325 190h1v1h-1zM696 190h1v1h-1zM733 190h1v1h-1zM325 191h1v1h-1zM697 191h1v1h-1zM732 191h1v1h-1zM324 192h1v1h-1zM698 192h1v1h-1zM731 192h1v1h-1zM324 193h1v1h-1zM698 193h1v1h-1zM730 193h1v1h-1zM324 194h1v1h-1zM699 194h1v1h-1zM728 194h2v1h-2zM324 195h1v1h-1zM700 195h2v1h-2zM726 195h2v1h-2zM324 196h1v1h-1zM702 196h1v1h-1zM722 196h4v1h-4zM323 197h1v1h-1zM703 197h19v1h-19zM323 198h1v1h-1zM323 199h1v1h-1zM323 200h1v1h-1zM323 201h1v1h-1zM322 202h1v1h-1zM322 203h1v1h-1zM322 204h1v1h-1zM322 205h1v1h-1zM322 206h1v1h-1zM322 207h1v1h-1zM321 208h1v1h-1zM321 209h1v1h-1zM321 210h1v1h-1zM321 211h1v1h-1zM321 212h1v1h-1zM320 213h1v1h-1zM320 214h1v1h-1zM320 215h1v1h-1zM320 216h1v1h-1zM320 217h1v1h-1zM320 218h1v1h-1zM319 219h1v1h-1zM319 220h1v1h-1zM319 221h1v1h-1zM319 222h1v1h-1zM319 223h1v1h-1zM318 224h1v1h-1zM318 225h1v1h-1zM318 226h1v1h-1zM318 227h1v1h-1zM318 228h1v1h-1zM317 229h1v1h-1zM317 230h1v1h-1zM317 231h1v1h-1zM317 232h1v1h-1zM317 233h1v1h-1zM316 234h1v1h-1zM316 235h1v1h-1zM316 236h1v1h-1zM316 237h1v1h-1zM316 238h1v1h-1zM315 239h1v1h-1zM315 240h1v1h-1zM315 241h1v1h-1zM315 242h1v1h-1zM315 243h1v1h-1zM314 244h1v1h-1zM314 245h1v1h-1zM314 246h1v1h-1zM314 247h1v1h-1zM313 248h1v1h-1zM313 249h1v1h-1zM313 250h1v1h-1zM313 251h1v1h-1zM313 252h1v1h-1zM312 253h1v1h-1zM312 254h1v1h-1zM312 255h1v1h-1zM312 256h1v1h-1zM311 257h1v1h-1zM311 258h1v1h-1zM311 259h1v1h-1zM311 260h1v1h-1zM311 261h1v1h-1zM310 262h1v1h-1zM310 263h1v1h-1zM310 264h1v1h-1zM310 265h1v1h-1zM310 266h1v1h-1zM309 267h1v1h-1zM309 268h1v1h-1zM309 269h1v1h-1zM309 270h1v1h-1zM309 271h1v1h-1zM308 272h1v1h-1zM308 273h1v1h-1zM308 274h1v1h-1zM308 275h1v1h-1zM308 276h1v1h-1zM307 277h1v1h-1zM307 278h1v1h-1zM307 279h1v1h-1zM307 280h1v1h-1zM307 281h1v1h-1zM306 282h1v1h-1zM306 283h1v1h-1zM306 284h1v1h-1zM306 285h1v1h-1zM305 286h1v1h-1zM305 287h1v1h-1zM305 288h1v1h-1zM305 289h1v1h-1zM304 290h1v1h-1zM304 291h1v1h-1zM304 292h1v1h-1zM304 293h1v1h-1zM303 294h1v1h-1zM303 295h1v1h-1zM303 296h1v1h-1zM303 297h1v1h-1zM302 298h1v1h-1zM302 299h1v1h-1zM302 300h1v1h-1zM302 301h1v1h-1zM301 302h1v1h-1zM301 303h1v1h-1zM301 304h1v1h-1zM301 305h1v1h-1zM300 306h1v1h-1zM300 307h1v1h-1zM300 308h1v1h-1zM300 309h1v1h-1zM299 310h1v1h-1zM299 311h1v1h-1zM299 312h1v1h-1zM299 313h1v1h-1zM298 314h1v1h-1zM298 315h1v1h-1zM298 316h1v1h-1zM298 317h1v1h-1zM298 318h1v1h-1zM297 319h1v1h-1zM297 320h1v1h-1zM297 321h1v1h-1zM297 322h1v1h-1zM296 323h1v1h-1zM296 324h1v1h-1zM296 325h1v1h-1zM296 326h1v1h-1zM296 327h1v1h-1zM295 328h1v1h-1zM295 329h1v1h-1zM295 330h1v1h-1zM295 331h1v1h-1zM294 332h1v1h-1zM294 333h1v1h-1zM294 334h1v1h-1zM294 335h1v1h-1zM293 336h1v1h-1zM293 337h1v1h-1zM293 338h1v1h-1zM292 339h1v1h-1zM292 340h1v1h-1zM292 341h1v1h-1zM292 342h1v1h-1zM291 343h1v1h-1zM291 344h1v1h-1zM291 345h1v1h-1zM290 346h1v1h-1zM290 347h1v1h-1zM290 348h1v1h-1zM290 349h1v1h-1zM289 350h1v1h-1zM289 351h1v1h-1zM289 352h1v1h-1zM288 353h1v1h-1zM288 354h1v1h-1zM288 355h1v1h-1zM288 356h1v1h-1zM287 357h1v1h-1zM287 358h1v1h-1zM287 359h1v1h-1zM286 360h1v1h-1zM286 361h1v1h-1zM286 362h1v1h-1zM285 363h1v1h-1zM285 364h1v1h-1zM94 365h4v1h-4zM285 365h1v1h-1zM91 366h3v1h-3zM98 366h2v1h-2zM285 366h1v1h-1zM89 367h2v1h-2zM100 367h2v1h-2zM284 367h1v1h-1zM87 368h2v1h-2zM102 368h1v1h-1zM284 368h1v1h-1zM71 369h7v1h-7zM85 369h2v1h-2zM103 369h1v1h-1zM284 369h1v1h-1zM70 370h1v1h-1zM78 370h7v1h-7zM104 370h1v1h-1zM283 370h1v1h-1zM70 371h1v1h-1zM105 371h1v1h-1zM283 371h1v1h-1zM69 372h1v1h-1zM105 372h1v1h-1zM282 372h1v1h-1zM68 373h1v1h-1zM106 373h1v1h-1zM282 373h1v1h-1zM68 374h1v1h-1zM107 374h1v1h-1zM281 374h1v1h-1zM67 375h1v1h-1zM108 375h1v1h-1zM281 375h1v1h-1zM66 376h1v1h-1zM109 376h1v1h-1zM280 376h1v1h-1zM66 377h1v1h-1zM109 377h1v1h-1zM280 377h1v1h-1zM65 378h1v1h-1zM110 378h1v1h-1zM279 378h1v1h-1zM65 379h1v1h-1zM111 379h1v1h-1zM278 379h1v1h-1zM64 380h1v1h-1zM112 380h1v1h-1zM278 380h1v1h-1zM64 381h1v1h-1zM112 381h1v1h-1zM277 381h1v1h-1zM63 382h1v1h-1zM113 382h1v1h-1zM277 382h1v1h-1zM63 383h1v1h-1zM114 383h1v1h-1zM276 383h1v1h-1zM62 384h1v1h-1zM114 384h1v1h-1zM276 384h1v1h-1zM62 385h1v1h-1zM115 385h1v1h-1zM275 385h1v1h-1zM61 386h1v1h-1zM116 386h1v1h-1zM275 386h1v1h-1zM61 387h1v1h-1zM117 387h1v1h-1zM274 387h1v1h-1zM60 388h1v1h-1zM117 388h1v1h-1zM274 388h1v1h-1zM60 389h1v1h-1zM118 389h1v1h-1zM274 389h1v1h-1zM59 390h1v1h-1zM119 390h1v1h-1zM273 390h1v1h-1zM58 391h1v1h-1zM120 391h1v1h-1zM273 391h1v1h-1zM57 392h1v1h-1zM120 392h1v1h-1zM272 392h1v1h-1zM3 393h1v1h-1zM57 393h1v1h-1zM121 393h1v1h-1zM272 393h1v1h-1zM4 394h2v1h-2zM56 394h1v1h-1zM121 394h1v1h-1zM272 394h1v1h-1zM6 395h1v1h-1zM55 395h1v1h-1zM122 395h1v1h-1zM250 395h20v1h-20zM271 395h1v1h-1zM7 396h1v1h-1zM54 396h1v1h-1zM122 396h1v1h-1zM247 396h3v1h-3zM270 396h2v1h-2zM8 397h2v1h-2zM53 397h1v1h-1zM123 397h1v1h-1zM245 397h2v1h-2zM10 398h1v1h-1zM52 398h1v1h-1zM124 398h1v1h-1zM243 398h2v1h-2zM11 399h2v1h-2zM51 399h1v1h-1zM124 399h1v1h-1zM242 399h1v1h-1zM13 400h2v1h-2zM50 400h1v1h-1zM125 400h1v1h-1zM240 400h2v1h-2zM15 401h2v1h-2zM23 401h7v1h-7zM49 401h1v1h-1zM125 401h1v1h-1zM239 401h1v1h-1zM17 402h2v1h-2zM21 402h2v1h-2zM30 402h3v1h-3zM49 402h1v1h-1zM126 402h1v1h-1zM238 402h1v1h-1zM19 403h2v1h-2zM33 403h2v1h-2zM48 403h1v1h-1zM126 403h1v1h-1zM237 403h1v1h-1zM35 404h13v1h-13zM127 404h2v1h-2zM236 404h1v1h-1zM129 405h2v1h-2zM235 405h1v1h-1zM131 406h1v1h-1zM234 406h1v1h-1zM132 407h2v1h-2zM233 407h1v1h-1zM134 408h1v1h-1zM232 408h1v1h-1zM135 409h2v1h-2zM231 409h1v1h-1zM137 410h2v1h-2zM230 410h1v1h-1zM139 411h1v1h-1zM228 411h2v1h-2zM140 412h2v1h-2zM227 412h1v1h-1zM142 413h1v1h-1zM226 413h1v1h-1zM143 414h1v1h-1zM225 414h1v1h-1zM144 415h1v1h-1zM224 415h1v1h-1zM144 416h1v1h-1zM223 416h1v1h-1zM145 417h1v1h-1zM222 417h1v1h-1zM146 418h1v1h-1zM220 418h2v1h-2zM146 419h1v1h-1zM219 419h1v1h-1zM147 420h1v1h-1zM217 420h2v1h-2zM148 421h2v1h-2zM215 421h2v1h-2zM150 422h1v1h-1zM214 422h1v1h-1zM151 423h2v1h-2zM212 423h2v1h-2zM153 424h2v1h-2zM211 424h1v1h-1zM155 425h3v1h-3zM210 425h1v1h-1zM158 426h4v1h-4zM208 426h2v1h-2zM162 427h3v1h-3zM207 427h1v1h-1zM165 428h2v1h-2zM206 428h1v1h-1zM167 429h3v1h-3zM204 429h2v1h-2zM170 430h2v1h-2zM203 430h1v1h-1zM172 431h2v1h-2zM202 431h1v1h-1zM174 432h1v1h-1zM201 432h1v1h-1zM175 433h2v1h-2zM201 433h1v1h-1zM177 434h2v1h-2zM200 434h1v1h-1zM179 435h2v1h-2zM199 435h1v1h-1zM181 436h2v1h-2zM197 436h2v1h-2zM183 437h3v1h-3zM194 437h3v1h-3zM186 438h8v1h-8z" fill="#ff0000" shape-rendering="crispEdges"/>
<rect x="3" y="246" width="1162" height="2" fill="#0000ff" />
<rect x="3" y="331" width="1162" height="2" fill="#0000ff" />
<rect x="3" y="172" width="1162" height="2" fill="#00ff00" />
<rect x="3" y="99" width="1162" height="2" fill="#ff0000" />
<path d="M3 387h1v29h-1zM3 388h2v23h-2zM7 411h1v37h-1zM6 411h3v28h-3zM27 352h1v46h-1zM26 370h3v28h-3zM31 388h1v21h-1zM30 396h3v11h-3zM35 398h1v14h-1zM34 406h3v3h-3zM59 319h1v24h-1zM58 320h3v22h-3zM71 317h1v16h-1zM70 321h3v11h-3zM75 323h1v80h-1zM74 331h3v72h-3zM95 370h1v26h-1zM94 375h3v13h-3zM99 386h1v30h-1zM98 387h3v21h-3zM103 406h1v16h-1zM102 408h3v12h-3zM119 395h1v31h-1zM118 405h3v15h-3zM123 416h1v26h-1zM122 417h3v11h-3zM135 421h1v6h-1zM134 421h3v6h-3zM143 417h1v21h-1zM142 422h3v15h-3zM147 432h1v41h-1zM146 436h3v34h-3zM163 428h1v8h-1zM162 431h3v2h-3zM171 393h1v57h-1zM170 427h3v19h-3zM179 435h1v15h-1zM178 441h3v3h-3zM183 443h1v16h-1zM182 443h3v14h-3zM203 387h1v11h-1zM202 389h3v8h-3zM215 382h1v27h-1zM214 393h3v14h-3zM235 380h1v14h-1zM234 382h3v11h-3zM239 387h1v38h-1zM238 392h3v9h-3zM247 391h1v18h-1zM246 395h3v6h-3zM251 397h1v12h-1zM250 400h3v5h-3zM259 394h1v9h-1zM258 396h3v7h-3zM271 381h1v17h-1zM270 387h3v11h-3zM279 271h1v20h-1zM278 284h3v3h-3zM303 158h1v15h-1zM302 164h3v6h-3zM319 100h1v33h-1zM318 113h3v8h-3zM327 106h1v14h-1zM326 111h3v1h-3zM331 95h1v34h-1zM330 112h3v6h-3zM335 94h1v37h-1zM334 117h3v10h-3zM339 118h1v52h-1zM338 126h3v31h-3zM343 150h1v13h-1zM342 155h3v3h-3zM347 152h1v17h-1zM346 157h3v11h-3zM363 123h1v25h-1zM362 124h3v17h-3zM371 132h1v40h-1zM370 138h3v24h-3zM379 139h1v13h-1zM378 141h3v9h-3zM383 144h1v26h-1zM382 149h3v12h-3zM387 153h1v42h-1zM386 160h3v34h-3zM407 139h1v20h-1zM406 148h3v11h-3zM411 148h1v23h-1zM410 158h3v9h-3zM419 151h1v13h-1zM418 152h3v10h-3zM423 160h1v16h-1zM422 161h3v12h-3zM431 161h1v23h-1zM430 167h3v12h-3zM435 166h1v44h-1zM434 178h3v30h-3zM451 154h1v11h-1zM450 155h3v9h-3zM463 145h1v16h-1zM462 147h3v11h-3zM475 130h1v15h-1zM474 137h3v7h-3zM487 110h1v32h-1zM486 119h3v20h-3zM495 121h1v12h-1zM494 129h3v1h-3zM515 63h1v18h-1zM514 74h3v2h-3zM527 51h1v31h-1zM526 67h3v5h-3zM531 64h1v30h-1zM530 71h3v19h-3zM555 53h1v58h-1zM554 54h3v37h-3zM559 78h1v33h-1zM558 90h3v18h-3zM563 101h1v39h-1zM562 108h3v24h-3zM571 107h1v13h-1zM570 109h3v5h-3zM575 99h1v35h-1zM574 113h3v18h-3zM583 109h1v12h-1zM582 115h3v1h-3zM595 114h1v20h-1zM594 115h3v19h-3zM603 83h1v28h-1zM602 94h3v6h-3zM615 78h1v14h-1zM614 83h3v7h-3zM619 87h1v14h-1zM618 88h3v10h-3zM623 83h1v25h-1zM622 97h3v9h-3zM643 64h1v21h-1zM642 66h3v19h-3zM647 73h1v100h-1zM646 83h3v87h-3zM651 164h1v36h-1zM650 169h3v28h-3zM659 182h1v20h-1zM658 195h3v7h-3zM671 169h1v39h-1zM670 189h3v19h-3zM679 184h1v21h-1zM678 195h3v3h-3zM683 197h1v16h-1zM682 197h3v14h-3zM699 173h1v37h-1zM698 184h3v19h-3zM707 189h1v11h-1zM706 194h3v6h-3zM711 196h1v10h-1zM710 199h3v6h-3zM727 166h1v26h-1zM726 177h3v5h-3zM735 148h1v18h-1zM734 152h3v7h-3zM739 153h1v12h-1zM738 158h3v6h-3zM747 140h1v47h-1zM746 150h3v33h-3zM751 177h1v20h-1zM750 181h3v13h-3zM755 193h1v17h-1zM754 194h3v13h-3zM763 193h1v23h-1zM762 199h3v16h-3zM767 202h1v38h-1zM766 214h3v19h-3zM779 147h1v21h-1zM778 154h3v14h-3zM787 151h1v13h-1zM786 152h3v8h-3zM819 121h1v64h-1zM818 125h3v39h-3zM823 155h1v13h-1zM822 163h3v3h-3zM839 145h1v28h-1zM838 149h3v19h-3zM847 99h1v28h-1zM846 115h3v2h-3zM851 111h1v17h-1zM850 116h3v9h-3zM867 112h1v32h-1zM866 115h3v29h-3zM871 136h1v32h-1zM870 142h3v23h-3zM875 154h1v23h-1zM874 164h3v9h-3zM891 140h1v55h-1zM890 165h3v17h-3zM899 136h1v20h-1zM898 142h3v8h-3zM915 112h1v32h-1zM914 130h3v2h-3zM923 124h1v17h-1zM922 124h3v13h-3z" fill="#32cd32" shape-rendering="crispEdges"/>
<path d="M11 417h1v25h-1zM10 420h3v18h-3zM15 412h1v11h-1zM14 416h3v6h-3zM19 411h1v11h-1zM18 412h3v5h-3zM23 359h1v62h-1zM22 371h3v41h-3zM39 402h1v8h-1zM38 403h3v6h-3zM43 395h1v11h-1zM42 397h3v8h-3zM47 370h1v29h-1zM46 385h3v13h-3zM51 338h1v61h-1zM50 344h3v42h-3zM55 319h1v32h-1zM54 320h3v25h-3zM63 329h1v13h-1zM62 335h3v7h-3zM67 320h1v18h-1zM66 322h3v15h-3zM79 386h1v19h-1zM78 393h3v10h-3zM83 386h1v11h-1zM82 391h3v4h-3zM87 386h1v13h-1zM86 388h3v5h-3zM91 371h1v26h-1zM90 376h3v13h-3zM107 409h1v14h-1zM106 416h3v4h-3zM111 405h1v13h-1zM110 412h3v5h-3zM115 404h1v13h-1zM114 404h3v9h-3zM127 419h1v21h-1zM126 426h3v2h-3zM131 419h1v9h-1zM130 421h3v6h-3zM139 419h1v12h-1zM138 422h3v5h-3zM151 427h1v44h-1zM150 433h3v37h-3zM155 424h1v14h-1zM154 432h3v2h-3zM159 426h1v13h-1zM158 430h3v3h-3zM167 417h1v22h-1zM166 427h3v5h-3zM175 429h1v27h-1zM174 441h3v5h-3zM187 452h1v11h-1zM186 456h3v2h-3zM191 423h1v42h-1zM190 424h3v34h-3zM195 402h1v32h-1zM194 408h3v17h-3zM199 382h1v31h-1zM198 389h3v20h-3zM207 394h1v16h-1zM206 396h3v9h-3zM211 390h1v11h-1zM210 393h3v4h-3zM219 385h1v23h-1zM218 393h3v14h-3zM223 389h1v9h-1zM222 392h3v2h-3zM227 380h1v17h-1zM226 389h3v4h-3zM231 382h1v10h-1zM230 383h3v6h-3zM243 373h1v33h-1zM242 395h3v5h-3zM255 395h1v13h-1zM254 396h3v8h-3zM263 392h1v19h-1zM262 396h3v7h-3zM267 381h1v25h-1zM266 387h3v12h-3zM275 283h1v117h-1zM274 283h3v116h-3zM283 276h1v15h-1zM282 282h3v5h-3zM287 201h1v81h-1zM286 205h3v77h-3zM291 191h1v30h-1zM290 191h3v15h-3zM295 166h1v39h-1zM294 169h3v22h-3zM299 153h1v29h-1zM298 164h3v7h-3zM307 152h1v26h-1zM306 165h3v5h-3zM311 145h1v28h-1zM310 156h3v9h-3zM315 111h1v53h-1zM314 113h3v44h-3zM323 115h1v15h-1zM322 117h3v4h-3zM351 143h1v27h-1zM350 148h3v20h-3zM355 129h1v25h-1zM354 129h3v20h-3zM359 123h1v32h-1zM358 124h3v6h-3zM367 130h1v21h-1zM366 138h3v3h-3zM375 141h1v31h-1zM374 142h3v20h-3zM391 171h1v24h-1zM390 176h3v18h-3zM395 149h1v27h-1zM394 153h3v23h-3zM399 145h1v23h-1zM398 151h3v3h-3zM403 143h1v11h-1zM402 149h3v3h-3zM415 144h1v25h-1zM414 152h3v15h-3zM427 164h1v10h-1zM426 167h3v6h-3zM439 165h1v43h-1zM438 168h3v40h-3zM443 159h1v14h-1zM442 164h3v4h-3zM447 151h1v29h-1zM446 156h3v21h-3zM455 150h1v23h-1zM454 161h3v2h-3zM459 121h1v42h-1zM458 148h3v14h-3zM467 141h1v17h-1zM466 144h3v14h-3zM471 133h1v18h-1zM470 137h3v7h-3zM479 124h1v28h-1zM478 135h3v9h-3zM483 98h1v41h-1zM482 119h3v17h-3zM491 121h1v18h-1zM490 129h3v10h-3zM499 114h1v18h-1zM498 115h3v15h-3zM503 100h1v29h-1zM502 109h3v7h-3zM507 79h1v32h-1zM506 92h3v18h-3zM511 68h1v30h-1zM510 74h3v19h-3zM519 66h1v18h-1zM518 69h3v6h-3zM523 61h1v11h-1zM522 67h3v3h-3zM535 68h1v28h-1zM534 74h3v15h-3zM539 60h1v18h-1zM538 68h3v6h-3zM543 60h1v16h-1zM542 63h3v6h-3zM551 48h1v21h-1zM550 55h3v9h-3zM567 108h1v15h-1zM566 109h3v11h-3zM579 104h1v30h-1zM578 115h3v16h-3zM587 110h1v8h-1zM586 115h3v2h-3zM591 110h1v11h-1zM590 115h3v2h-3zM599 83h1v64h-1zM598 94h3v40h-3zM607 79h1v27h-1zM606 86h3v14h-3zM611 76h1v15h-1zM610 83h3v3h-3zM627 74h1v38h-1zM626 82h3v23h-3zM631 56h1v29h-1zM630 75h3v8h-3zM635 68h1v23h-1zM634 72h3v4h-3zM639 64h1v12h-1zM638 65h3v8h-3zM655 192h1v29h-1zM654 195h3v2h-3zM663 193h1v14h-1zM662 195h3v7h-3zM667 188h1v12h-1zM666 189h3v7h-3zM675 191h1v18h-1zM674 194h3v14h-3zM687 204h1v15h-1zM686 207h3v2h-3zM691 192h1v17h-1zM690 199h3v9h-3zM695 183h1v39h-1zM694 184h3v15h-3zM703 185h1v18h-1zM702 194h3v9h-3zM715 196h1v13h-1zM714 198h3v6h-3zM719 182h1v23h-1zM718 188h3v12h-3zM723 138h1v54h-1zM722 177h3v12h-3zM731 151h1v34h-1zM730 152h3v30h-3zM743 140h1v33h-1zM742 150h3v14h-3zM759 198h1v15h-1zM758 200h3v9h-3zM771 162h1v72h-1zM770 173h3v60h-3zM775 154h1v25h-1zM774 154h3v20h-3zM783 152h1v22h-1zM782 152h3v16h-3zM791 134h1v29h-1zM790 157h3v3h-3zM795 134h1v24h-1zM794 148h3v10h-3zM799 138h1v17h-1zM798 147h3v2h-3zM803 141h1v13h-1zM802 143h3v5h-3zM807 142h1v17h-1zM806 147h3v3h-3zM811 132h1v20h-1zM810 133h3v15h-3zM815 112h1v28h-1zM814 125h3v9h-3zM827 159h1v14h-1zM826 163h3v3h-3zM831 153h1v25h-1zM830 160h3v5h-3zM835 144h1v20h-1zM834 148h3v13h-3zM843 108h1v60h-1zM842 115h3v53h-3zM855 117h1v12h-1zM854 122h3v2h-3zM859 115h1v12h-1zM858 120h3v2h-3zM863 101h1v30h-1zM862 115h3v6h-3zM879 162h1v11h-1zM878 169h3v3h-3zM883 166h1v8h-1zM882 167h3v3h-3zM887 149h1v33h-1zM886 165h3v3h-3zM895 138h1v48h-1zM894 142h3v39h-3zM903 145h1v11h-1zM902 147h3v3h-3zM907 134h1v14h-1zM906 134h3v14h-3zM911 123h1v29h-1zM910 130h3v5h-3zM919 120h1v16h-1zM918 124h3v8h-3z" fill="#ff0000" shape-rendering="crispEdges"/>
<path d="M547 59h1v10h-1zM546 64h3v1h-3z" fill="#000000" shape-rendering="crispEdges"/>
<rect x="2" y="244" width="6" height="6" fill="#0000ff" />
<rect x="4" y="246" width="2" height="2" fill="#fff" />
<rect x="1159" y="244" width="6" height="6" fill="#0000ff" />
<rect x="1161" y="246" width="2" height="2" fill="#fff" />
<rect x="1167" y="241" width="40" height="11" fill="#0000ff" />
<text x="1171" y="250" font-size="10.2" fill="#fff" stroke="#fff" stroke-width="0.18" textLength="33" lengthAdjust="spacingAndGlyphs" >0.91101</text>
<rect x="1167" y="326" width="40" height="11" fill="#0000ff" />
<text x="1171" y="335" font-size="10.2" fill="#fff" stroke="#fff" stroke-width="0.18" textLength="33" lengthAdjust="spacingAndGlyphs" >0.90405</text>
<rect x="2" y="170" width="6" height="6" fill="#00ff00" />
<rect x="4" y="172" width="2" height="2" fill="#fff" />
<rect x="1159" y="170" width="6" height="6" fill="#00ff00" />
<rect x="1161" y="172" width="2" height="2" fill="#fff" />
<rect x="1167" y="167" width="40" height="11" fill="#00ff00" />
<text x="1171" y="176" font-size="10.2" fill="#fff" stroke="#fff" stroke-width="0.18" textLength="33" lengthAdjust="spacingAndGlyphs" >0.91708</text>
<rect x="2" y="97" width="6" height="6" fill="#ff0000" />
<rect x="4" y="99" width="2" height="2" fill="#fff" />
<rect x="1159" y="97" width="6" height="6" fill="#ff0000" />
<rect x="1161" y="99" width="2" height="2" fill="#fff" />
<rect x="1167" y="94" width="40" height="11" fill="#ff0000" />
<text x="1171" y="103" font-size="10.2" fill="#fff" stroke="#fff" stroke-width="0.18" textLength="33" lengthAdjust="spacingAndGlyphs" >0.92306</text>
<rect x="1167" y="131" width="40" height="11" fill="#000" />
<text x="1171" y="140" font-size="10.2" fill="#fff" stroke="#fff" stroke-width="0.18" textLength="33" lengthAdjust="spacingAndGlyphs" >0.92014</text>
<rect x="1165" y="24" width="1" height="461" fill="#000" />
<path d="M5.8 35.2 L9.5 30.7 L13.2 35.2 Z" fill="#000"/>
<text x="18.3" y="36" font-size="10.2" fill="#000" stroke="#000" stroke-width="0.18" textLength="54.7" lengthAdjust="spacingAndGlyphs" >USDCHF,H4</text>
<text x="79.2" y="36" font-size="10.2" fill="#000" stroke="#000" stroke-width="0.18" textLength="33" lengthAdjust="spacingAndGlyphs" >0.92109</text>
<text x="115" y="36" font-size="10.2" fill="#000" stroke="#000" stroke-width="0.18" textLength="33" lengthAdjust="spacingAndGlyphs" >0.92109</text>
<text x="151" y="36" font-size="10.2" fill="#000" stroke="#000" stroke-width="0.18" textLength="33" lengthAdjust="spacingAndGlyphs" >0.91984</text>
<text x="187" y="36" font-size="10.2" fill="#000" stroke="#000" stroke-width="0.18" textLength="33" lengthAdjust="spacingAndGlyphs" >0.92014</text>
<defs>
<linearGradient id="g1" x1="0" y1="0" x2="0" y2="1"><stop offset="0" stop-color="#ff5858"/><stop offset="0.42" stop-color="#dc2828"/><stop offset="1" stop-color="#b00000"/></linearGradient>
<linearGradient id="g2" x1="0" y1="0" x2="0" y2="1"><stop offset="0" stop-color="#e8e8e8"/><stop offset="0.5" stop-color="#dcdcdc"/><stop offset="0.5" stop-color="#cfcfcf"/><stop offset="1" stop-color="#d8d8d8"/></linearGradient>
</defs>
<rect x="4" y="42" width="223" height="61" fill="#fff" />
<path d="M6 44 H58 V68 H115 V101 H6 Z" fill="url(#g1)" shape-rendering="crispEdges"/>
<path d="M174 44 H225 V101 H117 V68 H174 Z" fill="url(#g1)" shape-rendering="crispEdges"/>
<path d="M6.5 101 V44.5 H57.5 V68.5 H114.5 V101 M117.5 101 V68.5 H174.5 V44.5 H224.5 V101" fill="none" stroke="#c01818" stroke-opacity="0.6" stroke-width="1"/>
<rect x="10" y="68" width="44" height="1" fill="#a01010" />
<rect x="10" y="69" width="44" height="1" fill="#f06060" />
<rect x="177" y="68" width="44" height="1" fill="#a01010" />
<rect x="177" y="69" width="44" height="1" fill="#f06060" />
<rect x="60.5" y="45.5" width="110" height="20" fill="#fff" stroke="#b0b0b0" stroke-width="1"/>
<rect x="62" y="47" width="18" height="18" fill="url(#g2)" />
<rect x="150" y="47" width="20" height="18" fill="url(#g2)" />
<rect x="80" y="46" width="1" height="19" fill="#b8b8b8" />
<rect x="149" y="46" width="1" height="19" fill="#b8b8b8" />
<path d="M67.5 54 H73.5 L70.5 57 Z" fill="#4a62c0"/>
<path d="M156 56.5 H162 L159 53.5 Z" fill="#4a62c0"/>
<text x="122.5" y="60" font-size="12.5" fill="#0a0a28" stroke="#0a0a28" stroke-width="0.1" textLength="23.5" lengthAdjust="spacingAndGlyphs" >3.00</text>
<text x="18.2" y="60" font-size="12.4" fill="#fff" textLength="25.6" lengthAdjust="spacingAndGlyphs" >SELL</text>
<text x="186.8" y="60" font-size="12.4" fill="#fff" textLength="22.8" lengthAdjust="spacingAndGlyphs" >BUY</text>
<text x="26" y="95.6" font-size="12" fill="#fff" textLength="24" lengthAdjust="spacingAndGlyphs" font-weight="bold" >0.92</text>
<text x="136" y="95.6" font-size="12" fill="#fff" textLength="24" lengthAdjust="spacingAndGlyphs" font-weight="bold" >0.92</text>
<text x="52.4" y="95.9" font-size="32.9" fill="#fff" stroke="#fff" stroke-width="0.6" textLength="37.4" lengthAdjust="spacingAndGlyphs" font-weight="200" font-family='"DejaVu Sans Light", "DejaVu Sans", "Liberation Sans", sans-serif' >01</text>
<text x="163.9" y="95.9" font-size="32.9" fill="#fff" stroke="#fff" stroke-width="0.6" textLength="37.4" lengthAdjust="spacingAndGlyphs" font-weight="200" font-family='"DejaVu Sans Light", "DejaVu Sans", "Liberation Sans", sans-serif' >03</text>
<text x="93.5" y="80" font-size="12" fill="#fff" font-weight="bold" >7</text>
<text x="204.5" y="80" font-size="12" fill="#fff" font-weight="bold" >1</text>
<text x="7.4" y="499" font-size="10.2" fill="#000" stroke="#000" stroke-width="0.18" textLength="65" lengthAdjust="spacingAndGlyphs" >MACD(12,26,9)</text>
<text x="76.5" y="499" font-size="10.2" fill="#000" stroke="#000" stroke-width="0.18" textLength="37.5" lengthAdjust="spacingAndGlyphs" >0.000433</text>
<text x="117" y="499" font-size="10.2" fill="#000" stroke="#000" stroke-width="0.18" textLength="37.5" lengthAdjust="spacingAndGlyphs" >0.000121</text>
<text x="1169.5" y="497" font-size="10.2" fill="#000" stroke="#000" stroke-width="0.18" textLength="38" lengthAdjust="spacingAndGlyphs" >0.006413</text>
<text x="1169.5" y="549" font-size="10.2" fill="#000" stroke="#000" stroke-width="0.18" textLength="17.5" lengthAdjust="spacingAndGlyphs" >0.00</text>
<text x="1169.5" y="567" font-size="10.2" fill="#000" stroke="#000" stroke-width="0.18" textLength="41.5" lengthAdjust="spacingAndGlyphs" >-0.002726</text>
<rect x="1166" y="488" width="1" height="1" fill="#000" />
<rect x="1166" y="545" width="1" height="1" fill="#000" />
<rect x="1166" y="568" width="1" height="1" fill="#000" />
<path d="M3 544h2v1h-2zM6 545h3v2h-3zM10 545h3v3h-3zM14 545h3v3h-3zM18 545h3v3h-3zM22 545h3v1h-3zM26 544h3v1h-3zM38 545h3v2h-3zM46 544h3v1h-3zM50 540h3v5h-3zM54 537h3v8h-3zM58 535h3v10h-3zM62 533h3v12h-3zM66 532h3v13h-3zM70 531h3v14h-3zM74 535h3v10h-3zM78 537h3v8h-3zM82 539h3v6h-3zM86 541h3v4h-3zM90 541h3v4h-3zM94 542h3v3h-3zM98 544h3v1h-3zM102 545h3v2h-3zM106 545h3v4h-3zM110 545h3v5h-3zM114 545h3v5h-3zM118 545h3v6h-3zM122 545h3v8h-3zM126 545h3v8h-3zM130 545h3v9h-3zM134 545h3v8h-3zM138 545h3v9h-3zM142 545h3v10h-3zM146 545h3v12h-3zM150 545h3v12h-3zM154 545h3v11h-3zM158 545h3v11h-3zM162 545h3v10h-3zM166 545h3v10h-3zM170 545h3v11h-3zM174 545h3v11h-3zM178 545h3v10h-3zM182 545h3v10h-3zM186 545h3v11h-3zM190 545h3v10h-3zM194 545h3v7h-3zM198 545h3v4h-3zM202 545h3v2h-3zM206 544h3v1h-3zM210 543h3v2h-3zM214 543h3v2h-3zM218 542h3v3h-3zM222 541h3v4h-3zM226 540h3v5h-3zM230 539h3v6h-3zM234 539h3v6h-3zM238 540h3v5h-3zM242 541h3v4h-3zM246 541h3v4h-3zM250 541h3v4h-3zM254 541h3v4h-3zM258 541h3v4h-3zM262 541h3v4h-3zM266 541h3v4h-3zM270 542h3v3h-3zM274 535h3v10h-3zM278 530h3v15h-3zM282 526h3v19h-3zM286 519h3v26h-3zM290 513h3v32h-3zM294 507h3v38h-3zM298 503h3v42h-3zM302 500h3v45h-3zM306 498h3v47h-3zM310 497h3v48h-3zM314 494h3v51h-3zM318 492h3v53h-3zM322 491h3v54h-3zM326 491h3v54h-3zM330 492h3v53h-3zM334 494h3v51h-3zM338 497h3v48h-3zM342 501h3v44h-3zM346 505h3v40h-3zM350 507h3v38h-3zM354 508h3v37h-3zM358 509h3v36h-3zM362 511h3v34h-3zM366 513h3v32h-3zM370 517h3v28h-3zM374 518h3v27h-3zM378 520h3v25h-3zM382 523h3v22h-3zM386 527h3v18h-3zM390 530h3v15h-3zM394 530h3v15h-3zM398 531h3v14h-3zM402 532h3v13h-3zM406 533h3v12h-3zM410 534h3v11h-3zM414 535h3v10h-3zM418 536h3v9h-3zM422 537h3v8h-3zM426 538h3v7h-3zM430 540h3v5h-3zM434 543h3v2h-3zM438 543h3v2h-3zM442 543h3v2h-3zM446 542h3v3h-3zM450 542h3v3h-3zM454 541h3v4h-3zM458 541h3v4h-3zM462 541h3v4h-3zM466 540h3v5h-3zM470 539h3v6h-3zM474 539h3v6h-3zM478 538h3v7h-3zM482 537h3v8h-3zM486 537h3v8h-3zM490 537h3v8h-3zM494 537h3v8h-3zM498 536h3v9h-3zM502 535h3v10h-3zM506 533h3v12h-3zM510 531h3v14h-3zM514 530h3v15h-3zM518 528h3v17h-3zM522 527h3v18h-3zM526 527h3v18h-3zM530 528h3v17h-3zM534 528h3v17h-3zM538 528h3v17h-3zM542 529h3v16h-3zM546 529h3v16h-3zM550 529h3v16h-3zM554 530h3v15h-3zM558 533h3v12h-3zM562 536h3v9h-3zM566 538h3v7h-3zM570 540h3v5h-3zM574 542h3v3h-3zM578 543h3v2h-3zM582 544h3v1h-3zM586 545h3v1h-3zM590 545h3v1h-3zM594 545h3v3h-3zM598 545h3v1h-3zM602 545h3v1h-3zM606 543h3v2h-3zM610 542h3v3h-3zM614 542h3v3h-3zM618 542h3v3h-3zM622 543h3v2h-3zM626 542h3v3h-3zM630 541h3v4h-3zM634 540h3v5h-3zM638 539h3v6h-3zM642 539h3v6h-3zM646 544h3v1h-3zM650 545h3v6h-3zM654 545h3v10h-3zM658 545h3v14h-3zM662 545h3v17h-3zM666 545h3v18h-3zM670 545h3v20h-3zM674 545h3v20h-3zM678 545h3v21h-3zM682 545h3v22h-3zM686 545h3v22h-3zM690 545h3v21h-3zM694 545h3v20h-3zM698 545h3v19h-3zM702 545h3v18h-3zM706 545h3v18h-3zM710 545h3v17h-3zM714 545h3v17h-3zM718 545h3v15h-3zM722 545h3v13h-3zM726 545h3v12h-3zM730 545h3v9h-3zM734 545h3v7h-3zM738 545h3v5h-3zM742 545h3v4h-3zM746 545h3v4h-3zM750 545h3v5h-3zM754 545h3v6h-3zM758 545h3v7h-3zM762 545h3v8h-3zM766 545h3v10h-3zM770 545h3v8h-3zM774 545h3v5h-3zM778 545h3v4h-3zM782 545h3v2h-3zM786 545h3v1h-3zM790 544h3v1h-3zM794 542h3v3h-3zM798 541h3v4h-3zM802 540h3v5h-3zM806 540h3v5h-3zM810 539h3v6h-3zM814 537h3v8h-3zM818 539h3v6h-3zM822 541h3v4h-3zM826 541h3v4h-3zM830 541h3v4h-3zM834 541h3v4h-3zM838 542h3v3h-3zM842 540h3v5h-3zM846 538h3v7h-3zM850 537h3v8h-3zM854 537h3v8h-3zM858 536h3v9h-3zM862 536h3v9h-3zM866 537h3v8h-3zM870 539h3v6h-3zM874 542h3v3h-3zM878 543h3v2h-3zM882 545h3v1h-3zM886 545h3v2h-3zM890 545h3v3h-3zM894 545h3v2h-3zM898 545h3v2h-3zM902 545h3v1h-3zM906 544h3v1h-3zM910 543h3v2h-3zM914 542h3v3h-3zM918 541h3v4h-3zM922 541h3v4h-3z" fill="#c0c0c0" shape-rendering="crispEdges"/>
<path d="M334 494h12v1h-12zM330 495h4v1h-4zM346 495h3v1h-3zM327 496h3v1h-3zM349 496h2v1h-2zM326 497h1v1h-1zM351 497h3v1h-3zM324 498h2v1h-2zM354 498h4v1h-4zM323 499h1v1h-1zM358 499h2v1h-2zM322 500h1v1h-1zM360 500h2v1h-2zM320 501h2v1h-2zM362 501h1v1h-1zM319 502h1v1h-1zM363 502h1v1h-1zM318 503h1v1h-1zM364 503h2v1h-2zM317 504h1v1h-1zM366 504h1v1h-1zM316 505h1v1h-1zM367 505h1v1h-1zM315 506h1v1h-1zM368 506h2v1h-2zM314 507h1v1h-1zM370 507h1v1h-1zM313 508h1v1h-1zM371 508h2v1h-2zM312 509h1v1h-1zM373 509h2v1h-2zM311 510h1v1h-1zM375 510h2v1h-2zM310 511h1v1h-1zM377 511h2v1h-2zM309 512h1v1h-1zM379 512h3v1h-3zM308 513h1v1h-1zM382 513h2v1h-2zM307 514h1v1h-1zM384 514h2v1h-2zM306 515h1v1h-1zM386 515h1v1h-1zM305 516h1v1h-1zM387 516h1v1h-1zM305 517h1v1h-1zM388 517h2v1h-2zM304 518h1v1h-1zM390 518h1v1h-1zM303 519h1v1h-1zM391 519h2v1h-2zM302 520h1v1h-1zM393 520h2v1h-2zM301 521h1v1h-1zM395 521h2v1h-2zM300 522h1v1h-1zM397 522h2v1h-2zM299 523h1v1h-1zM399 523h2v1h-2zM298 524h1v1h-1zM401 524h2v1h-2zM297 525h1v1h-1zM403 525h2v1h-2zM296 526h1v1h-1zM405 526h2v1h-2zM295 527h1v1h-1zM407 527h2v1h-2zM294 528h1v1h-1zM409 528h2v1h-2zM542 528h19v1h-19zM293 529h1v1h-1zM411 529h2v1h-2zM535 529h7v1h-7zM561 529h2v1h-2zM292 530h1v1h-1zM413 530h2v1h-2zM533 530h2v1h-2zM563 530h3v1h-3zM291 531h1v1h-1zM415 531h3v1h-3zM530 531h3v1h-3zM566 531h4v1h-4zM290 532h1v1h-1zM418 532h4v1h-4zM526 532h4v1h-4zM570 532h3v1h-3zM289 533h1v1h-1zM422 533h4v1h-4zM522 533h4v1h-4zM573 533h2v1h-2zM288 534h1v1h-1zM426 534h4v1h-4zM518 534h4v1h-4zM575 534h3v1h-3zM82 535h8v1h-8zM287 535h1v1h-1zM430 535h4v1h-4zM514 535h4v1h-4zM578 535h3v1h-3zM78 536h4v1h-4zM90 536h7v1h-7zM286 536h1v1h-1zM434 536h4v1h-4zM510 536h4v1h-4zM581 536h2v1h-2zM74 537h4v1h-4zM97 537h2v1h-2zM284 537h2v1h-2zM438 537h3v1h-3zM502 537h8v1h-8zM583 537h2v1h-2zM70 538h4v1h-4zM99 538h3v1h-3zM282 538h2v1h-2zM441 538h2v1h-2zM494 538h8v1h-8zM585 538h2v1h-2zM866 538h20v1h-20zM67 539h3v1h-3zM102 539h3v1h-3zM278 539h4v1h-4zM443 539h3v1h-3zM486 539h8v1h-8zM587 539h2v1h-2zM858 539h8v1h-8zM886 539h3v1h-3zM65 540h2v1h-2zM105 540h2v1h-2zM242 540h28v1h-28zM274 540h4v1h-4zM446 540h8v1h-8zM482 540h4v1h-4zM589 540h2v1h-2zM819 540h39v1h-39zM889 540h2v1h-2zM3 541h3v1h-3zM62 541h3v1h-3zM107 541h3v1h-3zM238 541h4v1h-4zM270 541h4v1h-4zM454 541h8v1h-8zM470 541h12v1h-12zM591 541h3v1h-3zM638 541h16v1h-16zM817 541h2v1h-2zM891 541h3v1h-3zM6 542h4v1h-4zM58 542h4v1h-4zM110 542h3v1h-3zM234 542h4v1h-4zM462 542h8v1h-8zM594 542h4v1h-4zM634 542h4v1h-4zM654 542h3v1h-3zM814 542h3v1h-3zM894 542h4v1h-4zM10 543h8v1h-8zM54 543h4v1h-4zM113 543h2v1h-2zM231 543h3v1h-3zM598 543h4v1h-4zM626 543h8v1h-8zM657 543h2v1h-2zM810 543h4v1h-4zM898 543h4v1h-4zM18 544h8v1h-8zM50 544h4v1h-4zM115 544h3v1h-3zM229 544h2v1h-2zM602 544h24v1h-24zM659 544h2v1h-2zM806 544h4v1h-4zM902 544h4v1h-4zM918 544h6v1h-6zM26 545h24v1h-24zM118 545h3v1h-3zM226 545h3v1h-3zM661 545h2v1h-2zM802 545h4v1h-4zM906 545h12v1h-12zM121 546h2v1h-2zM222 546h4v1h-4zM663 546h1v1h-1zM799 546h3v1h-3zM123 547h3v1h-3zM219 547h3v1h-3zM664 547h2v1h-2zM797 547h2v1h-2zM126 548h4v1h-4zM217 548h2v1h-2zM666 548h1v1h-1zM794 548h3v1h-3zM130 549h4v1h-4zM214 549h3v1h-3zM667 549h1v1h-1zM790 549h4v1h-4zM134 550h4v1h-4zM210 550h4v1h-4zM668 550h2v1h-2zM755 550h35v1h-35zM138 551h4v1h-4zM206 551h4v1h-4zM670 551h1v1h-1zM753 551h2v1h-2zM142 552h8v1h-8zM202 552h4v1h-4zM671 552h1v1h-1zM750 552h3v1h-3zM150 553h4v1h-4zM198 553h4v1h-4zM672 553h2v1h-2zM747 553h3v1h-3zM154 554h8v1h-8zM182 554h16v1h-16zM674 554h1v1h-1zM745 554h2v1h-2zM162 555h20v1h-20zM675 555h1v1h-1zM742 555h3v1h-3zM676 556h2v1h-2zM739 556h3v1h-3zM678 557h1v1h-1zM737 557h2v1h-2zM679 558h2v1h-2zM734 558h3v1h-3zM681 559h2v1h-2zM730 559h4v1h-4zM683 560h2v1h-2zM726 560h4v1h-4zM685 561h2v1h-2zM723 561h3v1h-3zM687 562h3v1h-3zM721 562h2v1h-2zM690 563h4v1h-4zM714 563h7v1h-7zM694 564h20v1h-20z" fill="#ff0000" shape-rendering="crispEdges"/>
<text x="7.3" y="585" font-size="10.2" fill="#000" stroke="#000" stroke-width="0.18" textLength="31.7" lengthAdjust="spacingAndGlyphs" >RSI(14)</text>
<text x="42" y="585" font-size="10.2" fill="#000" stroke="#000" stroke-width="0.18" textLength="33" lengthAdjust="spacingAndGlyphs" >53.7246</text>
<line x1="4" x2="1165" y1="599.5" y2="599.5" stroke="#c0c0c0" stroke-width="1" stroke-dasharray="3 3"/>
<line x1="4" x2="1165" y1="633.5" y2="633.5" stroke="#c0c0c0" stroke-width="1" stroke-dasharray="3 3"/>
<text x="1169.5" y="583" font-size="10.2" fill="#000" stroke="#000" stroke-width="0.18" textLength="14.5" lengthAdjust="spacingAndGlyphs" >100</text>
<text x="1168.3" y="603" font-size="10.2" fill="#000" stroke="#000" stroke-width="0.18" textLength="9.6" lengthAdjust="spacingAndGlyphs" >70</text>
<text x="1168.3" y="637" font-size="10.2" fill="#000" stroke="#000" stroke-width="0.18" textLength="9.6" lengthAdjust="spacingAndGlyphs" >30</text>
<text x="1169.5" y="656" font-size="10.2" fill="#000" stroke="#000" stroke-width="0.18" textLength="4.6" lengthAdjust="spacingAndGlyphs" >0</text>
<rect x="1166" y="574" width="1" height="1" fill="#000" />
<rect x="1166" y="658" width="1" height="1" fill="#000" />
<path d="M315 584h2v1h-2zM313 585h2v1h-2zM317 585h2v1h-2zM294 586h8v1h-8zM310 586h3v1h-3zM319 586h10v1h-10zM290 587h4v1h-4zM302 587h8v1h-8zM329 587h2v1h-2zM287 588h3v1h-3zM331 588h1v1h-1zM286 589h1v1h-1zM332 589h2v1h-2zM286 590h1v1h-1zM334 590h1v1h-1zM285 591h1v1h-1zM335 591h1v1h-1zM284 592h1v1h-1zM335 592h1v1h-1zM275 593h3v1h-3zM284 593h1v1h-1zM336 593h1v1h-1zM275 594h1v1h-1zM278 594h6v1h-6zM336 594h1v1h-1zM275 595h1v1h-1zM337 595h1v1h-1zM274 596h1v1h-1zM337 596h1v1h-1zM274 597h1v1h-1zM337 597h1v1h-1zM522 597h3v1h-3zM274 598h1v1h-1zM338 598h1v1h-1zM358 598h2v1h-2zM511 598h3v1h-3zM518 598h4v1h-4zM525 598h2v1h-2zM274 599h1v1h-1zM338 599h1v1h-1zM355 599h3v1h-3zM360 599h1v1h-1zM510 599h1v1h-1zM514 599h4v1h-4zM527 599h1v1h-1zM551 599h1v1h-1zM55 600h1v1h-1zM274 600h1v1h-1zM339 600h1v1h-1zM353 600h2v1h-2zM361 600h1v1h-1zM508 600h2v1h-2zM527 600h1v1h-1zM549 600h3v1h-3zM54 601h1v1h-1zM56 601h1v1h-1zM273 601h1v1h-1zM339 601h5v1h-5zM351 601h2v1h-2zM361 601h1v1h-1zM507 601h1v1h-1zM528 601h1v1h-1zM542 601h7v1h-7zM552 601h1v1h-1zM52 602h2v1h-2zM56 602h1v1h-1zM273 602h1v1h-1zM344 602h2v1h-2zM350 602h1v1h-1zM362 602h1v1h-1zM506 602h1v1h-1zM528 602h1v1h-1zM538 602h4v1h-4zM552 602h1v1h-1zM51 603h1v1h-1zM57 603h1v1h-1zM66 603h4v1h-4zM273 603h1v1h-1zM346 603h1v1h-1zM348 603h2v1h-2zM363 603h5v1h-5zM505 603h1v1h-1zM529 603h1v1h-1zM535 603h3v1h-3zM552 603h1v1h-1zM50 604h1v1h-1zM58 604h1v1h-1zM63 604h3v1h-3zM70 604h2v1h-2zM273 604h1v1h-1zM347 604h1v1h-1zM368 604h1v1h-1zM504 604h1v1h-1zM529 604h1v1h-1zM534 604h1v1h-1zM553 604h1v1h-1zM50 605h1v1h-1zM58 605h1v1h-1zM61 605h2v1h-2zM71 605h1v1h-1zM273 605h1v1h-1zM368 605h1v1h-1zM483 605h1v1h-1zM503 605h1v1h-1zM530 605h1v1h-1zM533 605h1v1h-1zM553 605h1v1h-1zM49 606h1v1h-1zM59 606h2v1h-2zM71 606h1v1h-1zM272 606h1v1h-1zM369 606h1v1h-1zM375 606h2v1h-2zM482 606h1v1h-1zM484 606h1v1h-1zM501 606h2v1h-2zM530 606h1v1h-1zM532 606h1v1h-1zM553 606h1v1h-1zM639 606h1v1h-1zM814 606h2v1h-2zM843 606h3v1h-3zM49 607h1v1h-1zM72 607h1v1h-1zM199 607h2v1h-2zM230 607h2v1h-2zM272 607h1v1h-1zM370 607h1v1h-1zM374 607h1v1h-1zM377 607h2v1h-2zM480 607h2v1h-2zM484 607h1v1h-1zM499 607h2v1h-2zM531 607h1v1h-1zM553 607h1v1h-1zM637 607h2v1h-2zM640 607h1v1h-1zM811 607h3v1h-3zM815 607h1v1h-1zM843 607h1v1h-1zM846 607h3v1h-3zM862 607h2v1h-2zM23 608h1v1h-1zM48 608h1v1h-1zM72 608h1v1h-1zM198 608h1v1h-1zM201 608h2v1h-2zM226 608h4v1h-4zM232 608h1v1h-1zM272 608h1v1h-1zM370 608h1v1h-1zM372 608h2v1h-2zM379 608h1v1h-1zM479 608h1v1h-1zM485 608h1v1h-1zM497 608h2v1h-2zM554 608h1v1h-1zM634 608h3v1h-3zM640 608h1v1h-1zM810 608h1v1h-1zM816 608h1v1h-1zM842 608h1v1h-1zM849 608h2v1h-2zM858 608h4v1h-4zM863 608h1v1h-1zM23 609h2v1h-2zM48 609h1v1h-1zM72 609h1v1h-1zM197 609h1v1h-1zM203 609h9v1h-9zM219 609h7v1h-7zM233 609h1v1h-1zM267 609h1v1h-1zM272 609h1v1h-1zM371 609h1v1h-1zM380 609h2v1h-2zM402 609h2v1h-2zM470 609h4v1h-4zM477 609h2v1h-2zM486 609h1v1h-1zM491 609h6v1h-6zM554 609h1v1h-1zM630 609h4v1h-4zM641 609h1v1h-1zM802 609h3v1h-3zM809 609h1v1h-1zM816 609h1v1h-1zM842 609h1v1h-1zM851 609h7v1h-7zM864 609h1v1h-1zM919 609h1v1h-1zM22 610h1v1h-1zM24 610h1v1h-1zM47 610h1v1h-1zM72 610h1v1h-1zM196 610h1v1h-1zM212 610h1v1h-1zM218 610h1v1h-1zM234 610h1v1h-1zM266 610h1v1h-1zM268 610h1v1h-1zM272 610h1v1h-1zM382 610h1v1h-1zM395 610h7v1h-7zM404 610h2v1h-2zM459 610h1v1h-1zM467 610h3v1h-3zM474 610h3v1h-3zM486 610h1v1h-1zM489 610h2v1h-2zM554 610h1v1h-1zM607 610h6v1h-6zM627 610h3v1h-3zM641 610h1v1h-1zM795 610h7v1h-7zM805 610h2v1h-2zM808 610h1v1h-1zM817 610h1v1h-1zM842 610h1v1h-1zM864 610h1v1h-1zM910 610h4v1h-4zM917 610h2v1h-2zM920 610h2v1h-2zM22 611h1v1h-1zM25 611h1v1h-1zM47 611h1v1h-1zM73 611h1v1h-1zM195 611h1v1h-1zM213 611h1v1h-1zM217 611h1v1h-1zM235 611h2v1h-2zM265 611h1v1h-1zM269 611h1v1h-1zM271 611h1v1h-1zM383 611h1v1h-1zM394 611h1v1h-1zM406 611h1v1h-1zM415 611h2v1h-2zM458 611h1v1h-1zM460 611h2v1h-2zM466 611h1v1h-1zM487 611h2v1h-2zM555 611h1v1h-1zM606 611h1v1h-1zM613 611h2v1h-2zM626 611h1v1h-1zM642 611h1v1h-1zM731 611h2v1h-2zM743 611h1v1h-1zM775 611h1v1h-1zM783 611h2v1h-2zM793 611h2v1h-2zM807 611h1v1h-1zM817 611h1v1h-1zM841 611h1v1h-1zM865 611h1v1h-1zM907 611h3v1h-3zM914 611h3v1h-3zM922 611h1v1h-1zM21 612h1v1h-1zM25 612h1v1h-1zM46 612h1v1h-1zM73 612h1v1h-1zM194 612h1v1h-1zM214 612h1v1h-1zM216 612h1v1h-1zM237 612h2v1h-2zM242 612h3v1h-3zM255 612h1v1h-1zM264 612h1v1h-1zM270 612h2v1h-2zM384 612h1v1h-1zM393 612h1v1h-1zM407 612h2v1h-2zM414 612h1v1h-1zM417 612h2v1h-2zM446 612h3v1h-3zM456 612h2v1h-2zM462 612h1v1h-1zM464 612h2v1h-2zM555 612h1v1h-1zM599 612h3v1h-3zM604 612h2v1h-2zM615 612h2v1h-2zM626 612h1v1h-1zM642 612h1v1h-1zM730 612h1v1h-1zM733 612h2v1h-2zM742 612h2v1h-2zM774 612h1v1h-1zM776 612h2v1h-2zM782 612h1v1h-1zM785 612h2v1h-2zM790 612h3v1h-3zM817 612h1v1h-1zM835 612h1v1h-1zM841 612h1v1h-1zM865 612h1v1h-1zM906 612h1v1h-1zM923 612h1v1h-1zM21 613h1v1h-1zM26 613h1v1h-1zM44 613h2v1h-2zM73 613h1v1h-1zM193 613h1v1h-1zM215 613h1v1h-1zM239 613h3v1h-3zM245 613h2v1h-2zM254 613h1v1h-1zM256 613h2v1h-2zM263 613h1v1h-1zM271 613h1v1h-1zM384 613h1v1h-1zM393 613h1v1h-1zM409 613h2v1h-2zM412 613h2v1h-2zM419 613h1v1h-1zM443 613h3v1h-3zM449 613h2v1h-2zM454 613h2v1h-2zM463 613h1v1h-1zM556 613h1v1h-1zM599 613h1v1h-1zM602 613h2v1h-2zM617 613h2v1h-2zM625 613h1v1h-1zM643 613h1v1h-1zM730 613h1v1h-1zM735 613h3v1h-3zM740 613h2v1h-2zM744 613h1v1h-1zM772 613h2v1h-2zM778 613h1v1h-1zM780 613h2v1h-2zM787 613h3v1h-3zM818 613h1v1h-1zM834 613h1v1h-1zM836 613h1v1h-1zM841 613h1v1h-1zM866 613h1v1h-1zM895 613h2v1h-2zM904 613h2v1h-2zM20 614h1v1h-1zM26 614h1v1h-1zM43 614h1v1h-1zM73 614h1v1h-1zM192 614h1v1h-1zM247 614h3v1h-3zM252 614h2v1h-2zM258 614h1v1h-1zM261 614h2v1h-2zM385 614h1v1h-1zM392 614h1v1h-1zM411 614h1v1h-1zM420 614h2v1h-2zM441 614h2v1h-2zM451 614h3v1h-3zM556 614h1v1h-1zM598 614h1v1h-1zM619 614h2v1h-2zM624 614h1v1h-1zM643 614h1v1h-1zM729 614h1v1h-1zM738 614h2v1h-2zM744 614h1v1h-1zM771 614h1v1h-1zM779 614h1v1h-1zM818 614h1v1h-1zM832 614h2v1h-2zM836 614h1v1h-1zM840 614h1v1h-1zM866 614h1v1h-1zM895 614h1v1h-1zM897 614h2v1h-2zM902 614h2v1h-2zM20 615h1v1h-1zM27 615h2v1h-2zM41 615h2v1h-2zM74 615h1v1h-1zM91 615h3v1h-3zM191 615h1v1h-1zM250 615h2v1h-2zM259 615h2v1h-2zM385 615h1v1h-1zM391 615h1v1h-1zM422 615h1v1h-1zM426 615h2v1h-2zM439 615h2v1h-2zM557 615h1v1h-1zM598 615h1v1h-1zM621 615h2v1h-2zM624 615h1v1h-1zM643 615h1v1h-1zM729 615h1v1h-1zM745 615h1v1h-1zM771 615h1v1h-1zM819 615h1v1h-1zM830 615h2v1h-2zM837 615h1v1h-1zM840 615h1v1h-1zM867 615h1v1h-1zM894 615h1v1h-1zM899 615h3v1h-3zM19 616h1v1h-1zM29 616h2v1h-2zM38 616h3v1h-3zM74 616h1v1h-1zM90 616h1v1h-1zM94 616h2v1h-2zM191 616h1v1h-1zM386 616h1v1h-1zM390 616h1v1h-1zM423 616h3v1h-3zM428 616h2v1h-2zM439 616h1v1h-1zM558 616h1v1h-1zM598 616h1v1h-1zM623 616h1v1h-1zM644 616h1v1h-1zM728 616h1v1h-1zM745 616h1v1h-1zM770 616h1v1h-1zM819 616h3v1h-3zM826 616h4v1h-4zM838 616h1v1h-1zM840 616h1v1h-1zM868 616h1v1h-1zM894 616h1v1h-1zM19 617h1v1h-1zM31 617h7v1h-7zM74 617h1v1h-1zM88 617h2v1h-2zM96 617h1v1h-1zM190 617h1v1h-1zM386 617h1v1h-1zM388 617h2v1h-2zM430 617h1v1h-1zM438 617h1v1h-1zM558 617h1v1h-1zM567 617h3v1h-3zM597 617h1v1h-1zM644 617h1v1h-1zM723 617h2v1h-2zM728 617h1v1h-1zM746 617h1v1h-1zM770 617h1v1h-1zM822 617h4v1h-4zM838 617h2v1h-2zM869 617h1v1h-1zM894 617h1v1h-1zM17 618h2v1h-2zM74 618h1v1h-1zM82 618h6v1h-6zM97 618h1v1h-1zM190 618h1v1h-1zM387 618h1v1h-1zM431 618h1v1h-1zM438 618h1v1h-1zM559 618h1v1h-1zM566 618h1v1h-1zM570 618h2v1h-2zM579 618h13v1h-13zM597 618h1v1h-1zM644 618h1v1h-1zM722 618h1v1h-1zM725 618h3v1h-3zM746 618h1v1h-1zM770 618h1v1h-1zM839 618h1v1h-1zM869 618h1v1h-1zM893 618h1v1h-1zM3 619h1v1h-1zM14 619h3v1h-3zM75 619h1v1h-1zM78 619h4v1h-4zM97 619h1v1h-1zM167 619h1v1h-1zM190 619h1v1h-1zM432 619h1v1h-1zM437 619h1v1h-1zM560 619h1v1h-1zM566 619h1v1h-1zM572 619h1v1h-1zM578 619h1v1h-1zM592 619h1v1h-1zM596 619h1v1h-1zM644 619h1v1h-1zM721 619h1v1h-1zM727 619h1v1h-1zM747 619h1v1h-1zM770 619h1v1h-1zM870 619h1v1h-1zM893 619h1v1h-1zM4 620h1v1h-1zM11 620h3v1h-3zM75 620h3v1h-3zM98 620h1v1h-1zM115 620h1v1h-1zM158 620h4v1h-4zM165 620h2v1h-2zM168 620h1v1h-1zM189 620h1v1h-1zM432 620h1v1h-1zM437 620h1v1h-1zM561 620h1v1h-1zM565 620h1v1h-1zM573 620h1v1h-1zM577 620h1v1h-1zM593 620h1v1h-1zM596 620h1v1h-1zM645 620h1v1h-1zM720 620h1v1h-1zM748 620h2v1h-2zM769 620h1v1h-1zM871 620h2v1h-2zM886 620h2v1h-2zM892 620h1v1h-1zM4 621h1v1h-1zM10 621h1v1h-1zM99 621h2v1h-2zM113 621h2v1h-2zM116 621h2v1h-2zM151 621h7v1h-7zM162 621h3v1h-3zM169 621h1v1h-1zM189 621h1v1h-1zM433 621h1v1h-1zM436 621h1v1h-1zM561 621h1v1h-1zM564 621h1v1h-1zM574 621h1v1h-1zM576 621h1v1h-1zM593 621h1v1h-1zM596 621h1v1h-1zM645 621h1v1h-1zM719 621h1v1h-1zM750 621h1v1h-1zM769 621h1v1h-1zM873 621h2v1h-2zM878 621h8v1h-8zM888 621h1v1h-1zM892 621h1v1h-1zM5 622h1v1h-1zM10 622h1v1h-1zM101 622h2v1h-2zM110 622h3v1h-3zM118 622h1v1h-1zM139 622h1v1h-1zM151 622h1v1h-1zM169 622h1v1h-1zM175 622h3v1h-3zM188 622h1v1h-1zM434 622h1v1h-1zM436 622h1v1h-1zM562 622h1v1h-1zM564 622h1v1h-1zM575 622h1v1h-1zM594 622h2v1h-2zM645 622h1v1h-1zM718 622h1v1h-1zM751 622h1v1h-1zM769 622h1v1h-1zM875 622h3v1h-3zM889 622h1v1h-1zM892 622h1v1h-1zM5 623h1v1h-1zM9 623h1v1h-1zM103 623h7v1h-7zM119 623h3v1h-3zM130 623h4v1h-4zM137 623h2v1h-2zM140 623h1v1h-1zM150 623h1v1h-1zM170 623h1v1h-1zM173 623h2v1h-2zM178 623h2v1h-2zM188 623h1v1h-1zM434 623h2v1h-2zM563 623h1v1h-1zM595 623h1v1h-1zM645 623h1v1h-1zM695 623h1v1h-1zM716 623h2v1h-2zM752 623h2v1h-2zM759 623h1v1h-1zM769 623h1v1h-1zM890 623h2v1h-2zM6 624h1v1h-1zM8 624h1v1h-1zM122 624h8v1h-8zM134 624h3v1h-3zM141 624h1v1h-1zM150 624h1v1h-1zM171 624h2v1h-2zM180 624h2v1h-2zM188 624h1v1h-1zM435 624h1v1h-1zM646 624h1v1h-1zM694 624h1v1h-1zM696 624h2v1h-2zM703 624h3v1h-3zM715 624h1v1h-1zM754 624h1v1h-1zM757 624h2v1h-2zM760 624h2v1h-2zM768 624h1v1h-1zM891 624h1v1h-1zM6 625h1v1h-1zM8 625h1v1h-1zM142 625h1v1h-1zM150 625h1v1h-1zM182 625h1v1h-1zM187 625h1v1h-1zM646 625h1v1h-1zM693 625h1v1h-1zM698 625h1v1h-1zM701 625h2v1h-2zM706 625h4v1h-4zM713 625h2v1h-2zM755 625h2v1h-2zM762 625h1v1h-1zM768 625h1v1h-1zM7 626h1v1h-1zM143 626h1v1h-1zM149 626h1v1h-1zM183 626h5v1h-5zM646 626h1v1h-1zM692 626h1v1h-1zM699 626h2v1h-2zM710 626h3v1h-3zM763 626h1v1h-1zM768 626h1v1h-1zM144 627h1v1h-1zM149 627h1v1h-1zM646 627h1v1h-1zM691 627h1v1h-1zM764 627h2v1h-2zM768 627h1v1h-1zM144 628h1v1h-1zM148 628h1v1h-1zM647 628h1v1h-1zM690 628h1v1h-1zM766 628h2v1h-2zM145 629h1v1h-1zM148 629h1v1h-1zM647 629h1v1h-1zM675 629h6v1h-6zM688 629h2v1h-2zM767 629h1v1h-1zM146 630h1v1h-1zM148 630h1v1h-1zM647 630h1v1h-1zM667 630h2v1h-2zM674 630h1v1h-1zM681 630h2v1h-2zM686 630h2v1h-2zM146 631h2v1h-2zM648 631h2v1h-2zM665 631h2v1h-2zM669 631h2v1h-2zM672 631h2v1h-2zM683 631h3v1h-3zM147 632h1v1h-1zM650 632h1v1h-1zM662 632h3v1h-3zM671 632h1v1h-1zM651 633h11v1h-11z" fill="#1e90ff" shape-rendering="crispEdges"/>
<rect x="3" y="660" width="1" height="3" fill="#000" />
<text x="2" y="671.8" font-size="10.2" fill="#000" stroke="#000" stroke-width="0.18" textLength="45.8" lengthAdjust="spacingAndGlyphs" >1 Jun 2021</text>
<rect x="67" y="660" width="1" height="3" fill="#000" />
<text x="66" y="671.8" font-size="10.2" fill="#000" stroke="#000" stroke-width="0.18" textLength="48.4" lengthAdjust="spacingAndGlyphs" >4 Jun 10:00</text>
<rect x="131" y="660" width="1" height="3" fill="#000" />
<text x="130" y="671.8" font-size="10.2" fill="#000" stroke="#000" stroke-width="0.18" textLength="48.4" lengthAdjust="spacingAndGlyphs" >9 Jun 00:00</text>
<rect x="195" y="660" width="1" height="3" fill="#000" />
<text x="194" y="671.8" font-size="10.2" fill="#000" stroke="#000" stroke-width="0.18" textLength="52.8" lengthAdjust="spacingAndGlyphs" >11 Jun 18:00</text>
<rect x="259" y="660" width="1" height="3" fill="#000" />
<text x="258" y="671.8" font-size="10.2" fill="#000" stroke="#000" stroke-width="0.18" textLength="53.5" lengthAdjust="spacingAndGlyphs" >16 Jun 10:00</text>
<rect x="323" y="660" width="1" height="3" fill="#000" />
<text x="322" y="671.8" font-size="10.2" fill="#000" stroke="#000" stroke-width="0.18" textLength="53.5" lengthAdjust="spacingAndGlyphs" >19 Jun 00:00</text>
<rect x="387" y="660" width="1" height="3" fill="#000" />
<text x="386" y="671.8" font-size="10.2" fill="#000" stroke="#000" stroke-width="0.18" textLength="53.5" lengthAdjust="spacingAndGlyphs" >23 Jun 18:00</text>
<rect x="451" y="660" width="1" height="3" fill="#000" />
<text x="450" y="671.8" font-size="10.2" fill="#000" stroke="#000" stroke-width="0.18" textLength="52.8" lengthAdjust="spacingAndGlyphs" >28 Jun 11:00</text>
<rect x="515" y="660" width="1" height="3" fill="#000" />
<text x="514" y="671.8" font-size="10.2" fill="#000" stroke="#000" stroke-width="0.18" textLength="45.3" lengthAdjust="spacingAndGlyphs" >1 Jul 00:00</text>
<rect x="579" y="660" width="1" height="3" fill="#000" />
<text x="578" y="671.8" font-size="10.2" fill="#000" stroke="#000" stroke-width="0.18" textLength="45.3" lengthAdjust="spacingAndGlyphs" >5 Jul 19:00</text>
<rect x="643" y="660" width="1" height="3" fill="#000" />
<text x="642" y="671.8" font-size="10.2" fill="#000" stroke="#000" stroke-width="0.18" textLength="45.3" lengthAdjust="spacingAndGlyphs" >8 Jul 10:00</text>
<rect x="707" y="660" width="1" height="3" fill="#000" />
<text x="706" y="671.8" font-size="10.2" fill="#000" stroke="#000" stroke-width="0.18" textLength="50.4" lengthAdjust="spacingAndGlyphs" >13 Jul 00:00</text>
<rect x="771" y="660" width="1" height="3" fill="#000" />
<text x="770" y="671.8" font-size="10.2" fill="#000" stroke="#000" stroke-width="0.18" textLength="50.4" lengthAdjust="spacingAndGlyphs" >15 Jul 18:00</text>
<rect x="835" y="660" width="1" height="3" fill="#000" />
<text x="834" y="671.8" font-size="10.2" fill="#000" stroke="#000" stroke-width="0.18" textLength="50.4" lengthAdjust="spacingAndGlyphs" >20 Jul 10:00</text>
<rect x="899" y="660" width="1" height="3" fill="#000" />
<text x="898" y="671.8" font-size="10.2" fill="#000" stroke="#000" stroke-width="0.18" textLength="50.4" lengthAdjust="spacingAndGlyphs" >23 Jul 00:00</text>
<rect x="0" y="680" width="1207" height="1" fill="#e3e3e3" />
<rect x="0" y="683" width="1207" height="1" fill="#f8f8f8" />
<rect x="0" y="684" width="1207" height="18" fill="#f0f0f0" />
<rect x="0" y="682" width="1207" height="1" fill="#000" />
<rect x="0" y="702" width="1207" height="1" fill="#fcfcfc" />
<rect x="0" y="703" width="1207" height="3" fill="#f0f0f0" />
<rect x="0" y="706" width="1207" height="1" fill="#a0a0a0" />
<rect x="0" y="707" width="1207" height="1" fill="#ffffff" />
<rect x="201" y="682" width="86" height="19" fill="#fff" />
<rect x="200" y="682" width="1" height="19" fill="#000" />
<rect x="287" y="682" width="1" height="19" fill="#000" />
<rect x="200" y="700" width="88" height="1" fill="#000" />
<rect x="288" y="684" width="1" height="18" fill="#808080" />
<rect x="202" y="701" width="87" height="1" fill="#808080" />
<text x="16.5" y="697" font-size="12.9" fill="#767676" stroke="#767676" stroke-width="0.15" textLength="67.5" lengthAdjust="spacingAndGlyphs" >EURUSD,H4</text>
<text x="107" y="697" font-size="12.9" fill="#767676" stroke="#767676" stroke-width="0.15" textLength="82" lengthAdjust="spacingAndGlyphs" >AUDUSD,Daily</text>
<text x="211" y="697" font-size="12.9" fill="#000" stroke="#000" stroke-width="0.15" textLength="66" lengthAdjust="spacingAndGlyphs" >USDCHF,H4</text>
<text x="299" y="697" font-size="12.9" fill="#767676" stroke="#767676" stroke-width="0.15" textLength="81" lengthAdjust="spacingAndGlyphs" >USDCAD,Daily</text>
<text x="402" y="697" font-size="12.9" fill="#767676" stroke="#767676" stroke-width="0.15" textLength="83" lengthAdjust="spacingAndGlyphs" >USDCNH,Daily</text>
<text x="508" y="697" font-size="12.9" fill="#767676" stroke="#767676" stroke-width="0.15" textLength="52" lengthAdjust="spacingAndGlyphs" >UKOil,H1</text>
<text x="582" y="697" font-size="12.9" fill="#767676" stroke="#767676" stroke-width="0.15" textLength="47" lengthAdjust="spacingAndGlyphs" >DJ30,H1</text>
<text x="652" y="697" font-size="12.9" fill="#767676" stroke="#767676" stroke-width="0.15" textLength="52" lengthAdjust="spacingAndGlyphs" >USDX,H1</text>
<text x="727" y="697" font-size="12.9" fill="#767676" stroke="#767676" stroke-width="0.15" textLength="69" lengthAdjust="spacingAndGlyphs" >XAUUSD,H1</text>
<text x="820" y="697" font-size="12.9" fill="#767676" stroke="#767676" stroke-width="0.15" textLength="68" lengthAdjust="spacingAndGlyphs" >GBPUSD,H1</text>
<rect x="96" y="685" width="1" height="14" fill="#6a6a6a" />
<rect x="392" y="685" width="1" height="14" fill="#6a6a6a" />
<rect x="496" y="685" width="1" height="14" fill="#6a6a6a" />
<rect x="572" y="685" width="1" height="14" fill="#6a6a6a" />
<rect x="640" y="685" width="1" height="14" fill="#6a6a6a" />
<rect x="716" y="685" width="1" height="14" fill="#6a6a6a" />
<rect x="809" y="685" width="1" height="14" fill="#6a6a6a" />
<rect x="900" y="685" width="1" height="14" fill="#6a6a6a" />
<path d="M1184 688 L1180.7 691 L1184 694 Z" fill="#9a9a9a"/><path d="M1200 688 L1203.3 691 L1200 694 Z" fill="#9a9a9a"/>
</svg>
</body></html>
